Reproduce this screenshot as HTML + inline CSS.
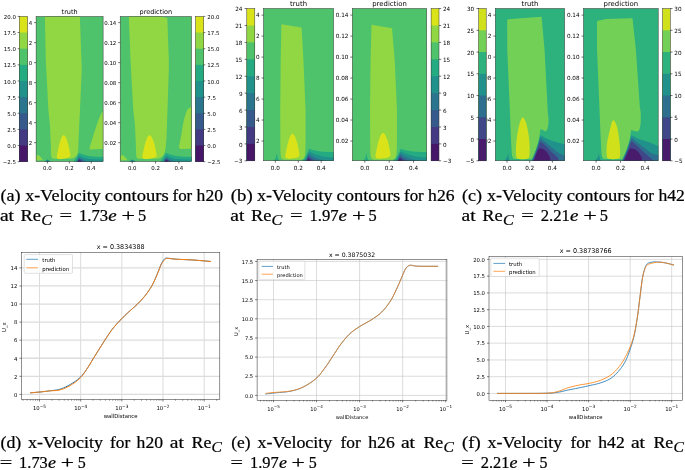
<!DOCTYPE html><html><head><meta charset="utf-8"><title>x-Velocity contours and profiles</title>
<style>html,body{margin:0;padding:0;background:#fff}svg{display:block}text{fill:#000}.d{font-family:"DejaVu Sans","Liberation Sans",sans-serif}.s{font-family:"Liberation Serif","DejaVu Serif",serif;stroke:#000;stroke-width:.22px}</style></head><body>
<svg width="685" height="470" viewBox="0 0 685 470">
<rect width="685" height="470" fill="#fff"/>
<clipPath id="c1"><rect x="36.1" y="16.4" width="67" height="145.1"/></clipPath>
<g clip-path="url(#c1)">
<rect x="35.1" y="15.4" width="69" height="147.1" fill="#4ec36b"/>
<polygon points="44.89,12.6 79.86,12.6 79.86,16.4 81.46,60.03 81.76,70.04 79.96,110.16 78.87,133.18 78.26,149.19 78.26,149.19 78.17,149.79 78.06,150.64 77.93,151.64 77.75,152.69 77.52,153.67 77.22,154.5 76.85,155.17 76.43,155.8 75.94,156.36 75.42,156.86 74.85,157.31 74.26,157.7 73.57,158.02 72.77,158.26 71.94,158.45 71.14,158.59 70.46,158.7 69.98,158.8 53.54,158.8 53.35,158.72 53.07,158.63 52.76,158.52 52.43,158.36 52.13,158.16 51.89,157.9 51.71,157.64 51.57,157.4 51.46,157.12 51.36,156.7 51.27,156.09 51.18,155.2 51.09,153.83 51.01,152.03 50.94,150.02 50.88,148.05 50.83,146.36 50.79,145.19 49.99,125.17 48.39,110.16 45.79,60.03 44.89,16.4" fill="#90d743"/>
<polygon points="63.68,134.98 63.5,135.13 63.25,135.33 62.96,135.57 62.64,135.85 62.35,136.15 62.09,136.48 61.87,136.84 61.68,137.21 61.5,137.62 61.32,138.07 61.13,138.55 60.94,139.08 60.72,139.68 60.5,140.33 60.27,141.03 60.04,141.75 59.82,142.47 59.62,143.19 59.44,143.9 59.26,144.62 59.1,145.35 58.94,146.07 58.79,146.79 58.63,147.49 58.48,148.17 58.33,148.85 58.19,149.51 58.04,150.17 57.9,150.83 57.76,151.49 57.61,152.18 57.45,152.89 57.29,153.61 57.15,154.3 57.03,154.93 56.93,155.5 56.87,155.98 56.81,156.4 56.78,156.78 56.77,157.11 56.8,157.42 56.88,157.7 56.99,157.95 57.14,158.18 57.32,158.37 57.55,158.53 57.82,158.67 58.14,158.8 58.51,158.91 58.91,159.01 59.36,159.08 59.86,159.12 60.44,159.13 61.1,159.1 61.9,159.01 62.83,158.87 63.84,158.69 64.85,158.49 65.78,158.29 66.58,158.1 67.26,157.91 67.86,157.72 68.39,157.52 68.85,157.32 69.26,157.11 69.6,156.9 69.87,156.71 70.07,156.54 70.21,156.37 70.3,156.16 70.35,155.88 70.37,155.5 70.35,154.98 70.28,154.35 70.17,153.66 70.03,152.92 69.89,152.19 69.76,151.49 69.64,150.83 69.51,150.17 69.38,149.51 69.24,148.85 69.09,148.17 68.94,147.49 68.79,146.79 68.64,146.07 68.49,145.35 68.32,144.62 68.15,143.9 67.96,143.19 67.74,142.47 67.51,141.75 67.26,141.03 67.01,140.33 66.76,139.68 66.53,139.08 66.31,138.55 66.11,138.07 65.91,137.62 65.71,137.21 65.5,136.84 65.27,136.48 65,136.15 64.7,135.85 64.39,135.57 64.1,135.33 63.86,135.13 63.68,134.98" fill="#dae319"/>
<polygon points="35.33,155.2 38.07,155.2 38.07,155.2 38.26,155.27 38.53,155.36 38.84,155.49 39.17,155.66 39.5,155.9 39.83,156.21 40.18,156.59 40.54,157.02 40.9,157.46 41.25,157.9 41.62,158.36 42,158.87 42.36,159.37 42.68,159.8 42.9,160.1 35.33,160.5" fill="#90d743"/>
<polygon points="104.42,108.16 104.28,108.38 104.12,108.64 103.91,108.97 103.67,109.38 103.38,109.87 103.05,110.46 102.66,111.15 102.21,111.92 101.73,112.77 101.21,113.73 100.68,114.79 100.14,115.97 99.59,117.3 99.01,118.77 98.42,120.36 97.82,122.01 97.22,123.7 96.63,125.38 96.05,127.05 95.46,128.75 94.88,130.48 94.3,132.24 93.71,134.04 93.12,135.88 92.49,137.91 91.81,140.16 91.12,142.44 90.48,144.58 89.95,146.39 89.56,147.69 89.56,147.69 89.55,148.01 89.54,148.48 89.58,148.95 89.72,149.29 90.05,149.44 90.5,149.49 90.95,149.49 91.26,149.49 104.42,148.79" fill="#90d743"/>
<polygon points="73.27,162.7 73.27,161.5 73.68,161.06 74.25,160.44 74.91,159.71 75.56,158.94 76.12,158.2 76.59,157.45 77.03,156.65 77.42,155.86 77.78,155.12 78.1,154.5 78.37,153.98 78.6,153.55 78.8,153.19 78.95,152.91 79.06,152.69 79.06,152.69 79.4,152.88 79.83,153.13 80.39,153.44 81.08,153.77 81.94,154.09 83,154.45 84.25,154.83 85.63,155.23 87.06,155.59 88.46,155.9 89.83,156.13 91.21,156.32 92.62,156.47 94.09,156.59 95.64,156.7 97.44,156.78 99.46,156.83 101.46,156.86 103.2,156.88 104.42,156.9 104.42,162.7" fill="#25ab82"/>
<polygon points="75.69,162.7 75.69,161.5 75.95,161.03 76.31,160.35 76.74,159.57 77.17,158.79 77.55,158.1 77.9,157.47 78.25,156.84 78.58,156.25 78.86,155.75 79.06,155.4 79.06,155.4 79.48,155.64 80.03,155.99 80.72,156.4 81.54,156.81 82.48,157.2 83.58,157.56 84.84,157.94 86.2,158.31 87.63,158.64 89.06,158.9 90.53,159.08 92.06,159.2 93.62,159.28 95.19,159.34 96.74,159.4 98.4,159.45 100.18,159.47 101.9,159.49 103.37,159.49 104.42,159.5 104.42,162.7" fill="#21918c"/>
<polygon points="76.78,162.7 76.78,161.5 77.03,161.07 77.38,160.46 77.76,159.79 78.1,159.2 78.39,158.69 78.66,158.2 78.9,157.79 79.06,157.5 79.06,157.5 79.56,157.78 80.26,158.2 81.08,158.66 81.94,159.1 82.82,159.52 83.76,159.95 84.75,160.36 85.77,160.7 86.94,160.97 88.21,161.2 89.36,161.37 90.16,161.5 90.16,162.7" fill="#2b758e"/>
<polygon points="77.44,162.7 77.44,161.5 77.6,161.16 77.83,160.67 78.09,160.15 78.32,159.7 78.53,159.33 78.75,158.99 78.93,158.7 79.06,158.5 79.06,158.5 79.47,158.74 80.05,159.1 80.72,159.5 81.39,159.9 82.11,160.32 82.9,160.79 83.63,161.21 84.13,161.5 84.13,162.7" fill="#375a8c"/>
<polygon points="77.88,162.7 77.88,161.5 78,161.23 78.18,160.85 78.37,160.44 78.54,160.1 78.69,159.84 78.84,159.61 78.97,159.43 79.06,159.3 79.06,159.3 79.39,159.47 79.86,159.72 80.38,160.01 80.84,160.3 81.25,160.61 81.66,160.96 82.02,161.28 82.27,161.5 82.27,162.7" fill="#443983"/>
<polygon points="78.21,162.7 78.21,161.5 78.84,160.1 81.17,161.5 81.17,162.7" fill="#481668"/>
<polygon points="44.1,162.7 44.1,161.5 47.39,159.3 51.23,161.5 51.23,162.7" fill="#25ab82"/>
<polygon points="45.42,162.7 45.42,161.5 47.61,160 49.81,161.5 49.81,162.7" fill="#2b758e"/>
</g>
<rect x="36.1" y="16.4" width="67" height="145.1" fill="none" stroke="#333" stroke-width="0.5"/>
<line x1="34.1" y1="142.69" x2="36.1" y2="142.69" stroke="#000" stroke-width="0.55"/>
<text class="d" transform="translate(32.2,144.76)" font-size="5.45" text-anchor="end">0.02</text>
<line x1="34.1" y1="122.67" x2="36.1" y2="122.67" stroke="#000" stroke-width="0.55"/>
<text class="d" transform="translate(32.2,124.74)" font-size="5.45" text-anchor="end">0.04</text>
<line x1="34.1" y1="102.66" x2="36.1" y2="102.66" stroke="#000" stroke-width="0.55"/>
<text class="d" transform="translate(32.2,104.73)" font-size="5.45" text-anchor="end">0.06</text>
<line x1="34.1" y1="82.65" x2="36.1" y2="82.65" stroke="#000" stroke-width="0.55"/>
<text class="d" transform="translate(32.2,84.72)" font-size="5.45" text-anchor="end">0.08</text>
<line x1="34.1" y1="62.63" x2="36.1" y2="62.63" stroke="#000" stroke-width="0.55"/>
<text class="d" transform="translate(32.2,64.7)" font-size="5.45" text-anchor="end">0.10</text>
<line x1="34.1" y1="42.62" x2="36.1" y2="42.62" stroke="#000" stroke-width="0.55"/>
<text class="d" transform="translate(32.2,44.69)" font-size="5.45" text-anchor="end">0.12</text>
<line x1="34.1" y1="22.6" x2="36.1" y2="22.6" stroke="#000" stroke-width="0.55"/>
<text class="d" transform="translate(32.2,24.68)" font-size="5.45" text-anchor="end">0.14</text>
<line x1="47.39" y1="161.5" x2="47.39" y2="163.5" stroke="#000" stroke-width="0.55"/>
<text class="d" transform="translate(47.39,170.49)" font-size="5.45" text-anchor="middle">0.0</text>
<line x1="69.33" y1="161.5" x2="69.33" y2="163.5" stroke="#000" stroke-width="0.55"/>
<text class="d" transform="translate(69.33,170.49)" font-size="5.45" text-anchor="middle">0.2</text>
<line x1="91.26" y1="161.5" x2="91.26" y2="163.5" stroke="#000" stroke-width="0.55"/>
<text class="d" transform="translate(91.26,170.49)" font-size="5.45" text-anchor="middle">0.4</text>
<text class="d" transform="translate(69.6,13.8)" font-size="6.5" text-anchor="middle">truth</text>
<rect x="19" y="13.4" width="9.7" height="151.3" fill="#fff"/>
<rect x="19.3" y="16.4" width="8.3" height="145.3" fill="#dae319"/>
<rect x="19.3" y="32.54" width="8.3" height="129.16" fill="#90d743"/>
<rect x="19.3" y="48.69" width="8.3" height="113.01" fill="#4ec36b"/>
<rect x="19.3" y="64.83" width="8.3" height="96.87" fill="#25ab82"/>
<rect x="19.3" y="80.98" width="8.3" height="80.72" fill="#21918c"/>
<rect x="19.3" y="97.12" width="8.3" height="64.58" fill="#2b758e"/>
<rect x="19.3" y="113.27" width="8.3" height="48.43" fill="#375a8c"/>
<rect x="19.3" y="129.41" width="8.3" height="32.29" fill="#443983"/>
<rect x="19.3" y="145.56" width="8.3" height="16.14" fill="#481668"/>
<rect x="19.3" y="16.4" width="8.3" height="145.3" fill="none" stroke="#333" stroke-width="0.5"/>
<line x1="17.7" y1="161.7" x2="19.3" y2="161.7" stroke="#000" stroke-width="0.55"/>
<text class="d" transform="translate(15.9,164.26)" font-size="5.45" text-anchor="end">−2.5</text>
<line x1="17.7" y1="145.56" x2="19.3" y2="145.56" stroke="#000" stroke-width="0.55"/>
<text class="d" transform="translate(15.9,148.12)" font-size="5.45" text-anchor="end">0.0</text>
<line x1="17.7" y1="129.41" x2="19.3" y2="129.41" stroke="#000" stroke-width="0.55"/>
<text class="d" transform="translate(15.9,131.97)" font-size="5.45" text-anchor="end">2.5</text>
<line x1="17.7" y1="113.27" x2="19.3" y2="113.27" stroke="#000" stroke-width="0.55"/>
<text class="d" transform="translate(15.9,115.83)" font-size="5.45" text-anchor="end">5.0</text>
<line x1="17.7" y1="97.12" x2="19.3" y2="97.12" stroke="#000" stroke-width="0.55"/>
<text class="d" transform="translate(15.9,99.68)" font-size="5.45" text-anchor="end">7.5</text>
<line x1="17.7" y1="80.98" x2="19.3" y2="80.98" stroke="#000" stroke-width="0.55"/>
<text class="d" transform="translate(15.9,83.54)" font-size="5.45" text-anchor="end">10.0</text>
<line x1="17.7" y1="64.83" x2="19.3" y2="64.83" stroke="#000" stroke-width="0.55"/>
<text class="d" transform="translate(15.9,67.39)" font-size="5.45" text-anchor="end">12.5</text>
<line x1="17.7" y1="48.69" x2="19.3" y2="48.69" stroke="#000" stroke-width="0.55"/>
<text class="d" transform="translate(15.9,51.25)" font-size="5.45" text-anchor="end">15.0</text>
<line x1="17.7" y1="32.54" x2="19.3" y2="32.54" stroke="#000" stroke-width="0.55"/>
<text class="d" transform="translate(15.9,35.11)" font-size="5.45" text-anchor="end">17.5</text>
<line x1="17.7" y1="16.4" x2="19.3" y2="16.4" stroke="#000" stroke-width="0.55"/>
<text class="d" transform="translate(15.9,18.96)" font-size="5.45" text-anchor="end">20.0</text>
<clipPath id="c2"><rect x="120.2" y="16.4" width="71.3" height="145.1"/></clipPath>
<g clip-path="url(#c2)">
<rect x="119.2" y="15.4" width="73.3" height="147.1" fill="#4ec36b"/>
<polygon points="128.79,12.6 161.36,12.6 161.36,16.4 167.31,18 167.31,18 168.81,60.03 168.81,70.04 167.31,115.17 166.6,136.38 165.66,148.19 165.66,148.19 165.55,148.7 165.4,149.41 165.21,150.24 165.01,151.12 164.78,151.97 164.54,152.69 164.3,153.32 164.06,153.9 163.8,154.45 163.5,154.96 163.17,155.44 162.79,155.9 162.36,156.33 161.88,156.73 161.36,157.1 160.81,157.43 160.24,157.74 159.64,158 158.97,158.22 158.2,158.39 157.4,158.53 156.65,158.64 156.01,158.73 155.56,158.8 138.75,158.8 138.55,158.72 138.26,158.63 137.93,158.52 137.58,158.36 137.26,158.16 137,157.9 136.82,157.64 136.66,157.4 136.54,157.12 136.44,156.7 136.34,156.09 136.25,155.2 136.15,153.83 136.07,152.03 135.99,150.02 135.93,148.05 135.88,146.36 135.84,145.19 134.99,125.17 133.28,110.16 130.52,60.03 128.79,16.4" fill="#90d743"/>
<polygon points="149.55,134.98 149.36,135.13 149.09,135.33 148.78,135.57 148.45,135.85 148.13,136.15 147.86,136.48 147.63,136.84 147.42,137.21 147.23,137.62 147.04,138.07 146.84,138.55 146.63,139.08 146.4,139.68 146.16,140.33 145.92,141.03 145.68,141.75 145.45,142.47 145.23,143.19 145.03,143.9 144.85,144.62 144.68,145.35 144.51,146.07 144.34,146.79 144.18,147.49 144.02,148.17 143.86,148.85 143.7,149.51 143.55,150.17 143.4,150.83 143.25,151.49 143.09,152.18 142.92,152.89 142.75,153.61 142.6,154.3 142.47,154.93 142.37,155.5 142.3,155.98 142.24,156.4 142.2,156.78 142.2,157.11 142.23,157.42 142.31,157.7 142.44,157.95 142.59,158.18 142.78,158.37 143.02,158.53 143.31,158.67 143.66,158.8 144.04,158.91 144.47,159.01 144.95,159.08 145.49,159.12 146.1,159.13 146.81,159.1 147.65,159.01 148.65,158.87 149.72,158.69 150.79,158.49 151.79,158.29 152.64,158.1 153.36,157.91 153.99,157.72 154.56,157.52 155.05,157.32 155.48,157.11 155.85,156.9 156.14,156.71 156.35,156.54 156.5,156.37 156.59,156.16 156.64,155.88 156.67,155.5 156.65,154.98 156.57,154.35 156.45,153.66 156.31,152.92 156.16,152.19 156.03,151.49 155.89,150.83 155.76,150.17 155.61,149.51 155.46,148.85 155.31,148.17 155.15,147.49 154.99,146.79 154.83,146.07 154.66,145.35 154.49,144.62 154.3,143.9 154.1,143.19 153.87,142.47 153.62,141.75 153.36,141.03 153.09,140.33 152.83,139.68 152.58,139.08 152.35,138.55 152.14,138.07 151.92,137.62 151.71,137.21 151.48,136.84 151.24,136.48 150.96,136.15 150.64,135.85 150.31,135.57 150,135.33 149.74,135.13 149.55,134.98" fill="#dae319"/>
<polygon points="119.38,155.2 122.3,155.2 122.3,155.2 122.5,155.27 122.78,155.36 123.11,155.49 123.47,155.66 123.82,155.9 124.17,156.21 124.54,156.59 124.93,157.02 125.31,157.46 125.68,157.9 126.07,158.36 126.48,158.87 126.87,159.37 127.2,159.8 127.44,160.1 119.38,160.5" fill="#90d743"/>
<polygon points="192.9,105.16 192.78,105.33 192.65,105.54 192.47,105.81 192.24,106.11 191.92,106.47 191.5,106.86 190.94,107.22 190.24,107.53 189.47,107.89 188.66,108.38 187.88,109.11 187.16,110.16 186.5,111.61 185.84,113.39 185.21,115.41 184.61,117.55 184.04,119.74 183.53,121.87 183.08,124 182.69,126.23 182.33,128.49 182,130.74 181.67,132.92 181.31,134.98 180.92,137.03 180.49,139.13 180.07,141.15 179.67,143 179.34,144.55 179.1,145.69 179.1,145.69 179.1,146.07 179.1,146.62 179.12,147.21 179.19,147.69 179.29,148.05 179.43,148.35 179.6,148.6 179.83,148.79 180.16,148.91 180.57,148.96 180.96,148.98 181.23,148.99 192.9,148.69" fill="#90d743"/>
<polygon points="159.76,162.7 159.76,161.5 160.19,161.06 160.8,160.44 161.5,159.71 162.2,158.94 162.79,158.2 163.28,157.45 163.72,156.65 164.13,155.86 164.51,155.12 164.89,154.5 165.29,153.98 165.69,153.55 166.06,153.19 166.37,152.91 166.6,152.69 166.6,152.69 166.85,152.88 167.16,153.13 167.58,153.44 168.17,153.77 168.98,154.09 170.06,154.45 171.39,154.83 172.87,155.23 174.41,155.59 175.92,155.9 177.38,156.13 178.85,156.32 180.35,156.47 181.92,156.59 183.56,156.7 185.47,156.78 187.63,156.83 189.76,156.86 191.6,156.88 192.9,156.9 192.9,162.7" fill="#25ab82"/>
<polygon points="162.33,162.7 162.33,161.5 162.59,161.03 162.96,160.35 163.4,159.57 163.86,158.79 164.31,158.1 164.78,157.47 165.31,156.84 165.83,156.25 166.28,155.75 166.6,155.4 166.6,155.4 166.94,155.64 167.38,155.99 167.94,156.4 168.66,156.81 169.56,157.2 170.68,157.56 172.02,157.94 173.48,158.31 175.02,158.64 176.56,158.9 178.12,159.08 179.75,159.2 181.41,159.28 183.08,159.34 184.73,159.4 186.5,159.45 188.39,159.47 190.22,159.49 191.79,159.49 192.9,159.5 192.9,162.7" fill="#21918c"/>
<polygon points="163.49,162.7 163.49,161.5 163.74,161.07 164.09,160.46 164.49,159.79 164.89,159.2 165.34,158.69 165.83,158.2 166.28,157.79 166.6,157.5 166.6,157.5 166.99,157.78 167.53,158.2 168.21,158.66 168.98,159.1 169.87,159.52 170.88,159.95 171.96,160.36 173.06,160.7 174.3,160.97 175.65,161.2 176.88,161.37 177.73,161.5 177.73,162.7" fill="#2b758e"/>
<polygon points="164.19,162.7 164.19,161.5 164.35,161.16 164.57,160.67 164.83,160.15 165.13,159.7 165.49,159.33 165.92,158.99 166.32,158.7 166.6,158.5 166.6,158.5 166.89,158.74 167.31,159.1 167.82,159.5 168.39,159.9 169.11,160.32 169.97,160.79 170.76,161.21 171.31,161.5 171.31,162.7" fill="#375a8c"/>
<polygon points="164.66,162.7 164.66,161.5 164.77,161.23 164.93,160.85 165.13,160.44 165.36,160.1 165.66,159.84 166.02,159.61 166.36,159.43 166.6,159.3 166.6,159.3 166.81,159.47 167.11,159.72 167.46,160.01 167.81,160.3 168.2,160.61 168.65,160.96 169.05,161.28 169.33,161.5 169.33,162.7" fill="#443983"/>
<polygon points="165.01,162.7 165.01,161.5 166.36,160.1 168.16,161.5 168.16,162.7" fill="#481668"/>
<polygon points="128.72,162.7 128.72,161.5 132.22,159.3 136.3,161.5 136.3,162.7" fill="#25ab82"/>
<polygon points="130.12,162.7 130.12,161.5 132.45,160 134.79,161.5 134.79,162.7" fill="#2b758e"/>
</g>
<rect x="120.2" y="16.4" width="71.3" height="145.1" fill="none" stroke="#333" stroke-width="0.5"/>
<line x1="118.2" y1="142.69" x2="120.2" y2="142.69" stroke="#000" stroke-width="0.55"/>
<text class="d" transform="translate(116.3,144.76)" font-size="5.45" text-anchor="end">0.02</text>
<line x1="118.2" y1="122.67" x2="120.2" y2="122.67" stroke="#000" stroke-width="0.55"/>
<text class="d" transform="translate(116.3,124.74)" font-size="5.45" text-anchor="end">0.04</text>
<line x1="118.2" y1="102.66" x2="120.2" y2="102.66" stroke="#000" stroke-width="0.55"/>
<text class="d" transform="translate(116.3,104.73)" font-size="5.45" text-anchor="end">0.06</text>
<line x1="118.2" y1="82.65" x2="120.2" y2="82.65" stroke="#000" stroke-width="0.55"/>
<text class="d" transform="translate(116.3,84.72)" font-size="5.45" text-anchor="end">0.08</text>
<line x1="118.2" y1="62.63" x2="120.2" y2="62.63" stroke="#000" stroke-width="0.55"/>
<text class="d" transform="translate(116.3,64.7)" font-size="5.45" text-anchor="end">0.10</text>
<line x1="118.2" y1="42.62" x2="120.2" y2="42.62" stroke="#000" stroke-width="0.55"/>
<text class="d" transform="translate(116.3,44.69)" font-size="5.45" text-anchor="end">0.12</text>
<line x1="118.2" y1="22.6" x2="120.2" y2="22.6" stroke="#000" stroke-width="0.55"/>
<text class="d" transform="translate(116.3,24.68)" font-size="5.45" text-anchor="end">0.14</text>
<line x1="132.22" y1="161.5" x2="132.22" y2="163.5" stroke="#000" stroke-width="0.55"/>
<text class="d" transform="translate(132.22,170.49)" font-size="5.45" text-anchor="middle">0.0</text>
<line x1="155.56" y1="161.5" x2="155.56" y2="163.5" stroke="#000" stroke-width="0.55"/>
<text class="d" transform="translate(155.56,170.49)" font-size="5.45" text-anchor="middle">0.2</text>
<line x1="178.9" y1="161.5" x2="178.9" y2="163.5" stroke="#000" stroke-width="0.55"/>
<text class="d" transform="translate(178.9,170.49)" font-size="5.45" text-anchor="middle">0.4</text>
<text class="d" transform="translate(155.85,13.8)" font-size="6.5" text-anchor="middle">prediction</text>
<rect x="195.3" y="13.4" width="8.7" height="151.3" fill="#fff"/>
<rect x="195.6" y="16.4" width="8.1" height="145.3" fill="#dae319"/>
<rect x="195.6" y="32.54" width="8.1" height="129.16" fill="#90d743"/>
<rect x="195.6" y="48.69" width="8.1" height="113.01" fill="#4ec36b"/>
<rect x="195.6" y="64.83" width="8.1" height="96.87" fill="#25ab82"/>
<rect x="195.6" y="80.98" width="8.1" height="80.72" fill="#21918c"/>
<rect x="195.6" y="97.12" width="8.1" height="64.58" fill="#2b758e"/>
<rect x="195.6" y="113.27" width="8.1" height="48.43" fill="#375a8c"/>
<rect x="195.6" y="129.41" width="8.1" height="32.29" fill="#443983"/>
<rect x="195.6" y="145.56" width="8.1" height="16.14" fill="#481668"/>
<rect x="195.6" y="16.4" width="8.1" height="145.3" fill="none" stroke="#333" stroke-width="0.5"/>
<line x1="203.7" y1="161.7" x2="205.3" y2="161.7" stroke="#000" stroke-width="0.55"/>
<text class="d" transform="translate(207.3,164.26)" font-size="5.45">−2.5</text>
<line x1="203.7" y1="145.56" x2="205.3" y2="145.56" stroke="#000" stroke-width="0.55"/>
<text class="d" transform="translate(207.3,148.12)" font-size="5.45">0.0</text>
<line x1="203.7" y1="129.41" x2="205.3" y2="129.41" stroke="#000" stroke-width="0.55"/>
<text class="d" transform="translate(207.3,131.97)" font-size="5.45">2.5</text>
<line x1="203.7" y1="113.27" x2="205.3" y2="113.27" stroke="#000" stroke-width="0.55"/>
<text class="d" transform="translate(207.3,115.83)" font-size="5.45">5.0</text>
<line x1="203.7" y1="97.12" x2="205.3" y2="97.12" stroke="#000" stroke-width="0.55"/>
<text class="d" transform="translate(207.3,99.68)" font-size="5.45">7.5</text>
<line x1="203.7" y1="80.98" x2="205.3" y2="80.98" stroke="#000" stroke-width="0.55"/>
<text class="d" transform="translate(207.3,83.54)" font-size="5.45">10.0</text>
<line x1="203.7" y1="64.83" x2="205.3" y2="64.83" stroke="#000" stroke-width="0.55"/>
<text class="d" transform="translate(207.3,67.39)" font-size="5.45">12.5</text>
<line x1="203.7" y1="48.69" x2="205.3" y2="48.69" stroke="#000" stroke-width="0.55"/>
<text class="d" transform="translate(207.3,51.25)" font-size="5.45">15.0</text>
<line x1="203.7" y1="32.54" x2="205.3" y2="32.54" stroke="#000" stroke-width="0.55"/>
<text class="d" transform="translate(207.3,35.11)" font-size="5.45">17.5</text>
<line x1="203.7" y1="16.4" x2="205.3" y2="16.4" stroke="#000" stroke-width="0.55"/>
<text class="d" transform="translate(207.3,18.96)" font-size="5.45">20.0</text>
<clipPath id="c3"><rect x="263.5" y="8.6" width="70.1" height="152.15"/></clipPath>
<g clip-path="url(#c3)">
<rect x="262.5" y="7.6" width="72.1" height="154.15" fill="#4ec36b"/>
<polygon points="301.6,27.49 303.41,59.81 305.59,109.86 305.59,141.02 305.59,141.02 305.56,142.48 305.52,144.58 305.46,147.02 305.39,149.53 305.29,151.82 305.15,153.61 304.98,154.91 304.8,155.93 304.58,156.73 304.33,157.38 304.02,157.93 303.66,158.44 303.17,158.89 302.55,159.2 301.89,159.43 301.24,159.58 300.69,159.7 300.31,159.81 284.6,159.81 284.27,159.71 283.79,159.6 283.24,159.45 282.67,159.26 282.15,159 281.74,158.65 281.45,158.26 281.22,157.84 281.04,157.35 280.89,156.75 280.77,156.01 280.65,155.08 280.55,153.82 280.49,152.21 280.44,150.45 280.41,148.75 280.39,147.29 280.37,146.27 280.2,109.86 280.7,59.81 281.4,24.34" fill="#90d743"/>
<polygon points="292.4,133.68 292.22,133.82 291.96,134.02 291.65,134.25 291.33,134.52 291.02,134.82 290.75,135.15 290.52,135.5 290.32,135.88 290.13,136.29 289.94,136.74 289.75,137.23 289.54,137.77 289.32,138.38 289.08,139.05 288.84,139.76 288.61,140.5 288.38,141.24 288.17,141.97 287.97,142.68 287.79,143.4 287.62,144.12 287.45,144.84 287.29,145.56 287.13,146.27 286.98,146.97 286.83,147.67 286.69,148.37 286.55,149.06 286.41,149.76 286.27,150.47 286.13,151.2 285.97,151.97 285.82,152.74 285.68,153.49 285.56,154.17 285.47,154.77 285.4,155.27 285.35,155.69 285.31,156.06 285.31,156.39 285.34,156.68 285.41,156.97 285.53,157.25 285.67,157.49 285.85,157.71 286.08,157.91 286.35,158.08 286.68,158.23 287.04,158.36 287.43,158.48 287.87,158.57 288.37,158.64 288.96,158.66 289.66,158.65 290.53,158.59 291.57,158.48 292.7,158.34 293.83,158.17 294.87,157.99 295.74,157.81 296.43,157.63 297.03,157.44 297.54,157.24 297.97,157.03 298.34,156.8 298.66,156.55 298.93,156.31 299.12,156.09 299.26,155.85 299.34,155.57 299.39,155.22 299.41,154.77 299.39,154.2 299.32,153.52 299.21,152.77 299.08,151.99 298.94,151.21 298.81,150.47 298.69,149.76 298.55,149.06 298.4,148.37 298.25,147.67 298.1,146.97 297.94,146.27 297.79,145.56 297.64,144.84 297.48,144.12 297.32,143.4 297.14,142.68 296.94,141.97 296.72,141.24 296.48,140.5 296.22,139.76 295.95,139.05 295.7,138.38 295.45,137.77 295.23,137.23 295.02,136.74 294.81,136.29 294.6,135.88 294.37,135.5 294.13,135.15 293.85,134.82 293.52,134.52 293.18,134.25 292.86,134.02 292.59,133.82 292.4,133.68" fill="#dae319"/>
<polygon points="273.02,162.01 273.02,160.75 273.47,160.44 274.11,160 274.79,159.47 275.32,158.86 275.65,158.16 275.89,157.35 276.07,156.51 276.24,155.71 276.38,154.85 276.49,153.92 276.58,153.18 276.69,152.88 276.82,153.18 276.96,153.92 277.11,154.85 277.27,155.71 277.43,156.51 277.59,157.35 277.79,158.16 278.07,158.86 278.5,159.47 279.04,160 279.55,160.44 279.91,160.75 279.91,162.01" fill="#25ab82"/>
<polygon points="301.71,162.01 301.71,160.75 302.1,160.46 302.66,160.07 303.31,159.58 303.98,159.01 304.57,158.34 305.11,157.54 305.63,156.62 306.14,155.63 306.63,154.61 307.1,153.61 307.56,152.56 308.03,151.42 308.46,150.31 308.83,149.36 309.09,148.68 309.09,148.68 309.52,148.85 310.1,149.09 310.81,149.37 311.65,149.66 312.6,149.94 313.73,150.22 315.02,150.52 316.41,150.82 317.83,151.09 319.2,151.31 320.48,151.47 321.72,151.59 322.97,151.68 324.31,151.75 325.8,151.83 327.62,151.91 329.72,151.99 331.84,152.05 333.69,152.11 334.98,152.15 334.98,162.01" fill="#25ab82"/>
<polygon points="304.5,162.01 304.5,160.75 304.83,160.05 305.29,159.06 305.83,157.92 306.37,156.75 306.87,155.71 307.34,154.74 307.84,153.73 308.31,152.79 308.72,151.98 309,151.41 309,151.41 309.92,151.84 311.2,152.44 312.72,153.14 314.36,153.84 316,154.45 317.66,154.99 319.41,155.51 321.23,155.99 323.1,156.41 325,156.76 327.09,157.02 329.4,157.21 331.66,157.33 333.6,157.42 334.98,157.5 334.98,162.01" fill="#21918c"/>
<polygon points="305.5,162.01 305.5,160.75 305.76,160.16 306.12,159.32 306.54,158.36 306.96,157.39 307.33,156.55 307.67,155.81 308.01,155.07 308.33,154.39 308.6,153.82 308.8,153.4 308.8,153.4 309.29,153.81 309.94,154.38 310.77,155.05 311.78,155.76 312.99,156.45 314.57,157.16 316.49,157.93 318.53,158.69 320.44,159.38 322,159.91 323.18,160.26 324.15,160.48 324.92,160.6 325.53,160.68 325.99,160.75 325.99,162.01" fill="#2b758e"/>
<polygon points="306,162.01 306,160.75 306.26,160.16 306.65,159.31 307.07,158.4 307.44,157.6 307.78,156.93 308.11,156.3 308.4,155.77 308.6,155.4 308.6,155.4 309.2,155.96 310.05,156.78 311.02,157.66 312,158.44 313.05,159.12 314.21,159.79 315.27,160.35 316,160.75 316,162.01" fill="#375a8c"/>
<polygon points="306.5,162.01 306.5,160.75 306.7,160.36 306.98,159.79 307.28,159.18 307.56,158.65 307.8,158.21 308.04,157.79 308.25,157.43 308.39,157.18 308.39,157.18 308.81,157.53 309.41,158.02 310.07,158.57 310.65,159.07 311.19,159.54 311.72,160.03 312.18,160.45 312.5,160.75 312.5,162.01" fill="#443983"/>
<polygon points="307.01,162.01 307.01,160.75 308.3,158.44 310.5,160.75 310.5,162.01" fill="#481668"/>
</g>
<rect x="263.5" y="8.6" width="70.1" height="152.15" fill="none" stroke="#333" stroke-width="0.5"/>
<line x1="261.5" y1="141.02" x2="263.5" y2="141.02" stroke="#000" stroke-width="0.55"/>
<text class="d" transform="translate(259.6,143.19)" font-size="5.7" text-anchor="end">0.02</text>
<line x1="261.5" y1="120.04" x2="263.5" y2="120.04" stroke="#000" stroke-width="0.55"/>
<text class="d" transform="translate(259.6,122.2)" font-size="5.7" text-anchor="end">0.04</text>
<line x1="261.5" y1="99.05" x2="263.5" y2="99.05" stroke="#000" stroke-width="0.55"/>
<text class="d" transform="translate(259.6,101.22)" font-size="5.7" text-anchor="end">0.06</text>
<line x1="261.5" y1="78.06" x2="263.5" y2="78.06" stroke="#000" stroke-width="0.55"/>
<text class="d" transform="translate(259.6,80.23)" font-size="5.7" text-anchor="end">0.08</text>
<line x1="261.5" y1="57.08" x2="263.5" y2="57.08" stroke="#000" stroke-width="0.55"/>
<text class="d" transform="translate(259.6,59.24)" font-size="5.7" text-anchor="end">0.10</text>
<line x1="261.5" y1="36.09" x2="263.5" y2="36.09" stroke="#000" stroke-width="0.55"/>
<text class="d" transform="translate(259.6,38.26)" font-size="5.7" text-anchor="end">0.12</text>
<line x1="261.5" y1="15.11" x2="263.5" y2="15.11" stroke="#000" stroke-width="0.55"/>
<text class="d" transform="translate(259.6,17.27)" font-size="5.7" text-anchor="end">0.14</text>
<line x1="275.32" y1="160.75" x2="275.32" y2="162.75" stroke="#000" stroke-width="0.55"/>
<text class="d" transform="translate(275.32,169.89)" font-size="5.7" text-anchor="middle">0.0</text>
<line x1="298.26" y1="160.75" x2="298.26" y2="162.75" stroke="#000" stroke-width="0.55"/>
<text class="d" transform="translate(298.26,169.89)" font-size="5.7" text-anchor="middle">0.2</text>
<line x1="321.21" y1="160.75" x2="321.21" y2="162.75" stroke="#000" stroke-width="0.55"/>
<text class="d" transform="translate(321.21,169.89)" font-size="5.7" text-anchor="middle">0.4</text>
<text class="d" transform="translate(298.55,5.9)" font-size="6.9" text-anchor="middle">truth</text>
<rect x="246.5" y="5.55" width="9.4" height="158.25" fill="#fff"/>
<rect x="246.8" y="8.55" width="8" height="152.25" fill="#dae319"/>
<rect x="246.8" y="25.47" width="8" height="135.33" fill="#90d743"/>
<rect x="246.8" y="42.38" width="8" height="118.42" fill="#4ec36b"/>
<rect x="246.8" y="59.3" width="8" height="101.5" fill="#25ab82"/>
<rect x="246.8" y="76.22" width="8" height="84.58" fill="#21918c"/>
<rect x="246.8" y="93.13" width="8" height="67.67" fill="#2b758e"/>
<rect x="246.8" y="110.05" width="8" height="50.75" fill="#375a8c"/>
<rect x="246.8" y="126.97" width="8" height="33.83" fill="#443983"/>
<rect x="246.8" y="143.88" width="8" height="16.92" fill="#481668"/>
<rect x="246.8" y="8.55" width="8" height="152.25" fill="none" stroke="#333" stroke-width="0.5"/>
<line x1="244.6" y1="160.8" x2="246.8" y2="160.8" stroke="#000" stroke-width="0.55"/>
<text class="d" transform="translate(242.5,163.48)" font-size="5.7" text-anchor="end">−3</text>
<line x1="244.6" y1="143.88" x2="246.8" y2="143.88" stroke="#000" stroke-width="0.55"/>
<text class="d" transform="translate(242.5,146.56)" font-size="5.7" text-anchor="end">0</text>
<line x1="244.6" y1="126.97" x2="246.8" y2="126.97" stroke="#000" stroke-width="0.55"/>
<text class="d" transform="translate(242.5,129.65)" font-size="5.7" text-anchor="end">3</text>
<line x1="244.6" y1="110.05" x2="246.8" y2="110.05" stroke="#000" stroke-width="0.55"/>
<text class="d" transform="translate(242.5,112.73)" font-size="5.7" text-anchor="end">6</text>
<line x1="244.6" y1="93.13" x2="246.8" y2="93.13" stroke="#000" stroke-width="0.55"/>
<text class="d" transform="translate(242.5,95.81)" font-size="5.7" text-anchor="end">9</text>
<line x1="244.6" y1="76.22" x2="246.8" y2="76.22" stroke="#000" stroke-width="0.55"/>
<text class="d" transform="translate(242.5,78.9)" font-size="5.7" text-anchor="end">12</text>
<line x1="244.6" y1="59.3" x2="246.8" y2="59.3" stroke="#000" stroke-width="0.55"/>
<text class="d" transform="translate(242.5,61.98)" font-size="5.7" text-anchor="end">15</text>
<line x1="244.6" y1="42.38" x2="246.8" y2="42.38" stroke="#000" stroke-width="0.55"/>
<text class="d" transform="translate(242.5,45.06)" font-size="5.7" text-anchor="end">18</text>
<line x1="244.6" y1="25.47" x2="246.8" y2="25.47" stroke="#000" stroke-width="0.55"/>
<text class="d" transform="translate(242.5,28.15)" font-size="5.7" text-anchor="end">21</text>
<line x1="244.6" y1="8.55" x2="246.8" y2="8.55" stroke="#000" stroke-width="0.55"/>
<text class="d" transform="translate(242.5,11.23)" font-size="5.7" text-anchor="end">24</text>
<clipPath id="c4"><rect x="352.3" y="8.6" width="74.4" height="152.15"/></clipPath>
<g clip-path="url(#c4)">
<rect x="351.3" y="7.6" width="76.4" height="154.15" fill="#4ec36b"/>
<polygon points="392,28.22 394.66,59.81 396.98,109.86 396.98,141.02 396.98,141.02 396.94,142.48 396.89,144.58 396.84,147.02 396.76,149.53 396.65,151.82 396.5,153.61 396.32,154.91 396.13,155.93 395.9,156.73 395.63,157.38 395.31,157.93 394.92,158.44 394.4,158.89 393.75,159.2 393.04,159.43 392.36,159.58 391.77,159.7 391.36,159.81 374.69,159.81 374.34,159.71 373.84,159.6 373.25,159.45 372.65,159.26 372.09,159 371.66,158.65 371.35,158.26 371.1,157.84 370.91,157.35 370.76,156.75 370.63,156.01 370.5,155.08 370.4,153.82 370.33,152.21 370.28,150.45 370.25,148.75 370.22,147.29 370.2,146.27 370.03,109.86 370.55,59.81 371.5,24.86" fill="#90d743"/>
<polygon points="382.97,132.73 382.78,132.9 382.5,133.11 382.18,133.37 381.83,133.66 381.5,133.99 381.22,134.34 380.98,134.71 380.77,135.1 380.56,135.52 380.36,135.98 380.16,136.49 379.94,137.04 379.7,137.67 379.45,138.36 379.2,139.1 378.95,139.86 378.7,140.62 378.48,141.37 378.27,142.1 378.08,142.84 377.9,143.58 377.72,144.32 377.55,145.06 377.38,145.8 377.22,146.52 377.06,147.24 376.91,147.96 376.76,148.68 376.62,149.39 376.47,150.12 376.32,150.88 376.15,151.66 375.99,152.46 375.84,153.22 375.71,153.93 375.62,154.55 375.55,155.08 375.49,155.55 375.45,155.96 375.44,156.33 375.48,156.66 375.56,156.97 375.68,157.26 375.83,157.51 376.03,157.73 376.26,157.92 376.55,158.08 376.9,158.23 377.28,158.36 377.7,158.48 378.16,158.57 378.7,158.64 379.32,158.66 380.06,158.65 380.99,158.59 382.09,158.48 383.29,158.34 384.49,158.17 385.6,157.99 386.52,157.81 387.25,157.63 387.89,157.45 388.42,157.25 388.88,157.04 389.28,156.81 389.62,156.55 389.9,156.29 390.11,156.03 390.25,155.75 390.34,155.43 390.39,155.03 390.41,154.55 390.39,153.95 390.32,153.25 390.2,152.48 390.07,151.68 389.92,150.88 389.78,150.12 389.64,149.39 389.5,148.68 389.34,147.96 389.18,147.24 389.02,146.52 388.85,145.8 388.69,145.06 388.53,144.32 388.37,143.58 388.19,142.84 388,142.1 387.8,141.37 387.56,140.62 387.3,139.86 387.03,139.1 386.75,138.36 386.47,137.67 386.21,137.04 385.97,136.49 385.75,135.98 385.53,135.52 385.3,135.1 385.07,134.71 384.81,134.34 384.51,133.99 384.16,133.66 383.81,133.37 383.47,133.11 383.18,132.9 382.97,132.73" fill="#dae319"/>
<polygon points="362.41,162.01 362.41,160.75 362.88,160.44 363.56,160 364.28,159.47 364.84,158.86 365.2,158.16 365.45,157.35 365.64,156.51 365.82,155.71 365.97,154.85 366.08,153.92 366.18,153.18 366.3,152.88 366.44,153.18 366.58,153.92 366.74,154.85 366.91,155.71 367.08,156.51 367.25,157.35 367.47,158.16 367.76,158.86 368.22,159.47 368.79,160 369.34,160.44 369.71,160.75 369.71,162.01" fill="#25ab82"/>
<polygon points="392.85,162.01 392.85,160.75 393.27,160.46 393.86,160.07 394.56,159.58 395.26,159.01 395.89,158.34 396.46,157.54 397.02,156.62 397.56,155.63 398.08,154.61 398.57,153.61 399.07,152.56 399.56,151.42 400.02,150.31 400.41,149.36 400.69,148.68 400.69,148.68 401.14,148.85 401.76,149.09 402.51,149.37 403.4,149.66 404.42,149.94 405.61,150.22 406.98,150.52 408.46,150.82 409.97,151.09 411.42,151.31 412.77,151.47 414.09,151.59 415.42,151.68 416.84,151.75 418.42,151.83 420.35,151.91 422.59,151.99 424.83,152.05 426.79,152.11 428.16,152.15 428.16,162.01" fill="#25ab82"/>
<polygon points="395.82,162.01 395.82,160.75 396.16,160.05 396.65,159.06 397.22,157.92 397.8,156.75 398.33,155.71 398.83,154.74 399.36,153.73 399.86,152.79 400.29,151.98 400.59,151.41 400.59,151.41 401.57,151.84 402.93,152.44 404.54,153.14 406.28,153.84 408.02,154.45 409.78,154.99 411.64,155.51 413.57,155.99 415.56,156.41 417.57,156.76 419.79,157.02 422.24,157.21 424.64,157.33 426.7,157.42 428.16,157.5 428.16,162.01" fill="#21918c"/>
<polygon points="396.88,162.01 396.88,160.75 397.15,160.16 397.53,159.32 397.98,158.36 398.42,157.39 398.82,156.55 399.18,155.81 399.54,155.07 399.88,154.39 400.17,153.82 400.37,153.4 400.37,153.4 400.9,153.81 401.59,154.38 402.47,155.05 403.54,155.76 404.83,156.45 406.5,157.16 408.54,157.93 410.7,158.69 412.74,159.38 414.39,159.91 415.65,160.26 416.67,160.48 417.49,160.6 418.14,160.68 418.63,160.75 418.63,162.01" fill="#2b758e"/>
<polygon points="397.4,162.01 397.4,160.75 397.69,160.16 398.09,159.31 398.54,158.4 398.94,157.6 399.29,156.93 399.65,156.3 399.95,155.77 400.17,155.4 400.17,155.4 400.8,155.96 401.7,156.78 402.74,157.66 403.77,158.44 404.89,159.12 406.12,159.79 407.24,160.35 408.02,160.75 408.02,162.01" fill="#375a8c"/>
<polygon points="397.94,162.01 397.94,160.75 398.15,160.36 398.44,159.79 398.77,159.18 399.06,158.65 399.32,158.21 399.57,157.79 399.79,157.43 399.95,157.18 399.95,157.18 400.39,157.53 401.02,158.02 401.72,158.57 402.35,159.07 402.91,159.54 403.48,160.03 403.96,160.45 404.31,160.75 404.31,162.01" fill="#443983"/>
<polygon points="398.47,162.01 398.47,160.75 399.85,158.44 402.19,160.75 402.19,162.01" fill="#481668"/>
</g>
<rect x="352.3" y="8.6" width="74.4" height="152.15" fill="none" stroke="#333" stroke-width="0.5"/>
<line x1="350.3" y1="141.02" x2="352.3" y2="141.02" stroke="#000" stroke-width="0.55"/>
<text class="d" transform="translate(348.4,143.19)" font-size="5.7" text-anchor="end">0.02</text>
<line x1="350.3" y1="120.04" x2="352.3" y2="120.04" stroke="#000" stroke-width="0.55"/>
<text class="d" transform="translate(348.4,122.2)" font-size="5.7" text-anchor="end">0.04</text>
<line x1="350.3" y1="99.05" x2="352.3" y2="99.05" stroke="#000" stroke-width="0.55"/>
<text class="d" transform="translate(348.4,101.22)" font-size="5.7" text-anchor="end">0.06</text>
<line x1="350.3" y1="78.06" x2="352.3" y2="78.06" stroke="#000" stroke-width="0.55"/>
<text class="d" transform="translate(348.4,80.23)" font-size="5.7" text-anchor="end">0.08</text>
<line x1="350.3" y1="57.08" x2="352.3" y2="57.08" stroke="#000" stroke-width="0.55"/>
<text class="d" transform="translate(348.4,59.24)" font-size="5.7" text-anchor="end">0.10</text>
<line x1="350.3" y1="36.09" x2="352.3" y2="36.09" stroke="#000" stroke-width="0.55"/>
<text class="d" transform="translate(348.4,38.26)" font-size="5.7" text-anchor="end">0.12</text>
<line x1="350.3" y1="15.11" x2="352.3" y2="15.11" stroke="#000" stroke-width="0.55"/>
<text class="d" transform="translate(348.4,17.27)" font-size="5.7" text-anchor="end">0.14</text>
<line x1="364.84" y1="160.75" x2="364.84" y2="162.75" stroke="#000" stroke-width="0.55"/>
<text class="d" transform="translate(364.84,169.89)" font-size="5.7" text-anchor="middle">0.0</text>
<line x1="389.2" y1="160.75" x2="389.2" y2="162.75" stroke="#000" stroke-width="0.55"/>
<text class="d" transform="translate(389.2,169.89)" font-size="5.7" text-anchor="middle">0.2</text>
<line x1="413.55" y1="160.75" x2="413.55" y2="162.75" stroke="#000" stroke-width="0.55"/>
<text class="d" transform="translate(413.55,169.89)" font-size="5.7" text-anchor="middle">0.4</text>
<text class="d" transform="translate(389.5,5.9)" font-size="6.9" text-anchor="middle">prediction</text>
<rect x="430.8" y="5.55" width="8.5" height="158.25" fill="#fff"/>
<rect x="431.1" y="8.55" width="7.9" height="152.25" fill="#dae319"/>
<rect x="431.1" y="25.47" width="7.9" height="135.33" fill="#90d743"/>
<rect x="431.1" y="42.38" width="7.9" height="118.42" fill="#4ec36b"/>
<rect x="431.1" y="59.3" width="7.9" height="101.5" fill="#25ab82"/>
<rect x="431.1" y="76.22" width="7.9" height="84.58" fill="#21918c"/>
<rect x="431.1" y="93.13" width="7.9" height="67.67" fill="#2b758e"/>
<rect x="431.1" y="110.05" width="7.9" height="50.75" fill="#375a8c"/>
<rect x="431.1" y="126.97" width="7.9" height="33.83" fill="#443983"/>
<rect x="431.1" y="143.88" width="7.9" height="16.92" fill="#481668"/>
<rect x="431.1" y="8.55" width="7.9" height="152.25" fill="none" stroke="#333" stroke-width="0.5"/>
<line x1="439" y1="160.8" x2="441.2" y2="160.8" stroke="#000" stroke-width="0.55"/>
<text class="d" transform="translate(443,163.48)" font-size="5.7">−3</text>
<line x1="439" y1="143.88" x2="441.2" y2="143.88" stroke="#000" stroke-width="0.55"/>
<text class="d" transform="translate(443,146.56)" font-size="5.7">0</text>
<line x1="439" y1="126.97" x2="441.2" y2="126.97" stroke="#000" stroke-width="0.55"/>
<text class="d" transform="translate(443,129.65)" font-size="5.7">3</text>
<line x1="439" y1="110.05" x2="441.2" y2="110.05" stroke="#000" stroke-width="0.55"/>
<text class="d" transform="translate(443,112.73)" font-size="5.7">6</text>
<line x1="439" y1="93.13" x2="441.2" y2="93.13" stroke="#000" stroke-width="0.55"/>
<text class="d" transform="translate(443,95.81)" font-size="5.7">9</text>
<line x1="439" y1="76.22" x2="441.2" y2="76.22" stroke="#000" stroke-width="0.55"/>
<text class="d" transform="translate(443,78.9)" font-size="5.7">12</text>
<line x1="439" y1="59.3" x2="441.2" y2="59.3" stroke="#000" stroke-width="0.55"/>
<text class="d" transform="translate(443,61.98)" font-size="5.7">15</text>
<line x1="439" y1="42.38" x2="441.2" y2="42.38" stroke="#000" stroke-width="0.55"/>
<text class="d" transform="translate(443,45.06)" font-size="5.7">18</text>
<line x1="439" y1="25.47" x2="441.2" y2="25.47" stroke="#000" stroke-width="0.55"/>
<text class="d" transform="translate(443,28.15)" font-size="5.7">21</text>
<line x1="439" y1="8.55" x2="441.2" y2="8.55" stroke="#000" stroke-width="0.55"/>
<text class="d" transform="translate(443,11.23)" font-size="5.7">24</text>
<clipPath id="c5"><rect x="495.3" y="8.6" width="69.3" height="152.15"/></clipPath>
<g clip-path="url(#c5)">
<rect x="494.3" y="7.6" width="71.3" height="154.15" fill="#2db27d"/>
<polygon points="507.16,19.41 541.56,16.78 544.56,49.84 547.95,114.9 547.95,114.9 548.03,115.27 548.16,115.79 548.29,116.42 548.42,117.14 548.49,117.94 548.53,118.86 548.55,119.92 548.53,121.04 548.5,122.15 548.44,123.18 548.35,124.14 548.22,125.08 548.08,125.98 547.92,126.82 547.75,127.59 547.56,128.31 547.36,128.98 547.15,129.58 546.92,130.11 546.68,130.53 546.43,130.85 546.17,131.08 545.9,131.22 545.59,131.28 545.25,131.26 544.87,131.13 544.45,130.88 544,130.57 543.53,130.26 543.05,130.01 542.5,129.81 541.89,129.64 541.27,129.49 540.75,129.36 540.37,129.27 540.37,129.27 540.21,130.51 540.01,132.23 539.74,134.27 539.4,136.49 538.97,138.71 538.39,141.12 537.69,143.8 536.93,146.52 536.2,149.04 535.59,151.1 535.11,152.62 534.72,153.78 534.37,154.68 534.02,155.46 533.64,156.24 533.17,157.03 532.65,157.75 532.14,158.38 531.7,158.9 531.39,159.28 515.49,159.07 515.2,159.02 514.79,158.98 514.32,158.9 513.85,158.73 513.45,158.44 513.11,158.03 512.8,157.54 512.52,156.94 512.27,156.23 512.05,155.4 511.88,154.29 511.75,152.93 511.65,151.52 511.58,150.28 511.52,149.42 510.76,134.52 510.06,114.9 507.27,49.84" fill="#73d056"/>
<polygon points="522.82,117.2 522.64,117.4 522.39,117.65 522.09,117.95 521.78,118.32 521.46,118.77 521.16,119.3 520.88,119.88 520.61,120.5 520.34,121.2 520.06,122.01 519.77,122.97 519.46,124.13 519.11,125.57 518.73,127.28 518.34,129.15 517.95,131.06 517.6,132.89 517.3,134.52 517.07,135.95 516.87,137.29 516.71,138.55 516.57,139.75 516.45,140.92 516.34,142.07 516.23,143.19 516.15,144.24 516.07,145.25 516.02,146.26 515.97,147.29 515.94,148.37 515.92,149.54 515.9,150.8 515.89,152.09 515.91,153.32 515.96,154.45 516.06,155.4 516.17,156.16 516.27,156.79 516.42,157.31 516.63,157.75 516.95,158.11 517.42,158.44 518.06,158.71 518.86,158.91 519.77,159.04 520.74,159.13 521.71,159.17 522.63,159.18 523.57,159.17 524.57,159.13 525.57,159.04 526.52,158.91 527.35,158.71 528.02,158.44 528.49,158.11 528.82,157.75 529.02,157.31 529.16,156.79 529.27,156.16 529.38,155.4 529.49,154.45 529.56,153.32 529.6,152.09 529.61,150.8 529.61,149.54 529.61,148.37 529.61,147.29 529.59,146.26 529.56,145.25 529.52,144.24 529.46,143.19 529.38,142.07 529.29,140.92 529.19,139.75 529.07,138.55 528.93,137.29 528.75,135.95 528.53,134.52 528.26,132.89 527.94,131.06 527.58,129.15 527.21,127.28 526.84,125.57 526.49,124.13 526.15,122.97 525.81,122.01 525.48,121.2 525.14,120.5 524.82,119.88 524.51,119.3 524.19,118.77 523.86,118.32 523.54,117.95 523.24,117.65 523,117.4 522.82,117.2" fill="#d0e11c"/>
<polygon points="503.42,162.01 503.42,160.75 503.9,160.48 504.58,160.09 505.31,159.61 505.92,159.07 506.35,158.45 506.71,157.73 507.01,156.98 507.28,156.24 507.5,155.37 507.67,154.41 507.82,153.62 507.96,153.3 508.08,153.63 508.18,154.42 508.29,155.39 508.41,156.24 508.55,156.93 508.71,157.62 508.88,158.26 509.09,158.86 509.37,159.43 509.7,159.97 510.01,160.43 510.23,160.75 510.23,162.01" fill="#21918c"/>
<polygon points="531.37,162.01 531.37,160.75 531.91,159.51 532.67,157.76 533.56,155.71 534.46,153.56 535.27,151.52 536.01,149.51 536.75,147.41 537.46,145.31 538.11,143.32 538.67,141.55 539.15,139.95 539.56,138.46 539.9,137.14 540.17,136.05 540.37,135.25 540.37,135.25 540.82,135.49 541.45,135.81 542.19,136.2 542.99,136.62 543.78,137.04 544.5,137.46 545.2,137.9 545.96,138.37 546.86,138.85 547.97,139.34 549.34,139.86 550.92,140.41 552.64,140.97 554.44,141.53 556.25,142.07 558.26,142.65 560.5,143.26 562.71,143.84 564.62,144.34 565.96,144.7 565.96,162.01" fill="#21918c"/>
<polygon points="532.16,162.01 532.16,160.75 532.62,159.66 533.26,158.13 534.01,156.32 534.78,154.41 535.5,152.57 536.18,150.69 536.9,148.67 537.59,146.65 538.24,144.76 538.79,143.12 539.24,141.74 539.62,140.51 539.93,139.46 540.18,138.61 540.37,137.98 540.37,137.98 541.01,138.51 541.88,139.25 542.93,140.13 544.07,141.09 545.25,142.07 546.48,143.09 547.82,144.19 549.22,145.34 550.65,146.5 552.06,147.63 553.45,148.79 554.86,149.99 556.28,151.17 557.69,152.26 559.09,153.19 560.58,153.97 562.18,154.62 563.71,155.16 565.03,155.6 565.96,155.92 565.96,162.01" fill="#2e6e8e"/>
<polygon points="532.73,162.01 532.73,160.75 533.15,159.81 533.75,158.5 534.45,156.94 535.17,155.27 535.84,153.61 536.48,151.85 537.14,149.9 537.79,147.94 538.39,146.15 538.9,144.7 539.32,143.63 539.67,142.83 539.97,142.24 540.2,141.79 540.37,141.44 540.37,141.44 541.01,141.95 541.88,142.65 542.93,143.5 544.07,144.47 545.25,145.53 546.51,146.77 547.9,148.2 549.35,149.71 550.76,151.16 552.06,152.46 553.28,153.58 554.47,154.61 555.59,155.56 556.58,156.44 557.39,157.29 557.98,158.12 558.38,158.94 558.66,159.68 558.86,160.3 559.02,160.75 559.02,162.01" fill="#3f4788"/>
<polygon points="533.49,162.01 533.49,160.75 533.66,160.34 533.89,159.79 534.17,159.14 534.48,158.39 534.81,157.59 535.16,156.76 535.53,155.82 535.95,154.74 536.39,153.6 536.84,152.49 537.27,151.48 537.65,150.68 537.99,150.07 538.3,149.6 538.59,149.25 538.87,148.97 539.16,148.76 539.47,148.58 539.77,148.43 540.07,148.35 540.37,148.33 540.69,148.36 541.07,148.44 541.51,148.58 542.03,148.74 542.62,148.94 543.26,149.18 543.92,149.5 544.59,149.92 545.25,150.47 545.93,151.18 546.65,152.04 547.37,153.01 548.07,154.02 548.7,155.01 549.22,155.92 549.63,156.82 549.96,157.76 550.23,158.68 550.44,159.52 550.6,160.23 550.74,160.75 550.74,162.01" fill="#481b6d"/>
</g>
<rect x="495.3" y="8.6" width="69.3" height="152.15" fill="none" stroke="#333" stroke-width="0.5"/>
<line x1="493.3" y1="141.02" x2="495.3" y2="141.02" stroke="#000" stroke-width="0.55"/>
<text class="d" transform="translate(491.4,143.19)" font-size="5.7" text-anchor="end">0.02</text>
<line x1="493.3" y1="120.04" x2="495.3" y2="120.04" stroke="#000" stroke-width="0.55"/>
<text class="d" transform="translate(491.4,122.2)" font-size="5.7" text-anchor="end">0.04</text>
<line x1="493.3" y1="99.05" x2="495.3" y2="99.05" stroke="#000" stroke-width="0.55"/>
<text class="d" transform="translate(491.4,101.22)" font-size="5.7" text-anchor="end">0.06</text>
<line x1="493.3" y1="78.06" x2="495.3" y2="78.06" stroke="#000" stroke-width="0.55"/>
<text class="d" transform="translate(491.4,80.23)" font-size="5.7" text-anchor="end">0.08</text>
<line x1="493.3" y1="57.08" x2="495.3" y2="57.08" stroke="#000" stroke-width="0.55"/>
<text class="d" transform="translate(491.4,59.24)" font-size="5.7" text-anchor="end">0.10</text>
<line x1="493.3" y1="36.09" x2="495.3" y2="36.09" stroke="#000" stroke-width="0.55"/>
<text class="d" transform="translate(491.4,38.26)" font-size="5.7" text-anchor="end">0.12</text>
<line x1="493.3" y1="15.11" x2="495.3" y2="15.11" stroke="#000" stroke-width="0.55"/>
<text class="d" transform="translate(491.4,17.27)" font-size="5.7" text-anchor="end">0.14</text>
<line x1="506.98" y1="160.75" x2="506.98" y2="162.75" stroke="#000" stroke-width="0.55"/>
<text class="d" transform="translate(506.98,169.89)" font-size="5.7" text-anchor="middle">0.0</text>
<line x1="529.67" y1="160.75" x2="529.67" y2="162.75" stroke="#000" stroke-width="0.55"/>
<text class="d" transform="translate(529.67,169.89)" font-size="5.7" text-anchor="middle">0.2</text>
<line x1="552.35" y1="160.75" x2="552.35" y2="162.75" stroke="#000" stroke-width="0.55"/>
<text class="d" transform="translate(552.35,169.89)" font-size="5.7" text-anchor="middle">0.4</text>
<text class="d" transform="translate(529.95,5.9)" font-size="6.9" text-anchor="middle">truth</text>
<rect x="478.4" y="5.55" width="8.9" height="158.25" fill="#fff"/>
<rect x="478.7" y="8.55" width="7.5" height="152.25" fill="#d0e11c"/>
<rect x="478.7" y="30.3" width="7.5" height="130.5" fill="#73d056"/>
<rect x="478.7" y="52.05" width="7.5" height="108.75" fill="#2db27d"/>
<rect x="478.7" y="73.8" width="7.5" height="87" fill="#21918c"/>
<rect x="478.7" y="95.55" width="7.5" height="65.25" fill="#2e6e8e"/>
<rect x="478.7" y="117.3" width="7.5" height="43.5" fill="#3f4788"/>
<rect x="478.7" y="139.05" width="7.5" height="21.75" fill="#481b6d"/>
<rect x="478.7" y="8.55" width="7.5" height="152.25" fill="none" stroke="#333" stroke-width="0.5"/>
<line x1="476.5" y1="160.8" x2="478.7" y2="160.8" stroke="#000" stroke-width="0.55"/>
<text class="d" transform="translate(474.2,163.48)" font-size="5.7" text-anchor="end">−5</text>
<line x1="476.5" y1="139.05" x2="478.7" y2="139.05" stroke="#000" stroke-width="0.55"/>
<text class="d" transform="translate(474.2,141.73)" font-size="5.7" text-anchor="end">0</text>
<line x1="476.5" y1="117.3" x2="478.7" y2="117.3" stroke="#000" stroke-width="0.55"/>
<text class="d" transform="translate(474.2,119.98)" font-size="5.7" text-anchor="end">5</text>
<line x1="476.5" y1="95.55" x2="478.7" y2="95.55" stroke="#000" stroke-width="0.55"/>
<text class="d" transform="translate(474.2,98.23)" font-size="5.7" text-anchor="end">10</text>
<line x1="476.5" y1="73.8" x2="478.7" y2="73.8" stroke="#000" stroke-width="0.55"/>
<text class="d" transform="translate(474.2,76.48)" font-size="5.7" text-anchor="end">15</text>
<line x1="476.5" y1="52.05" x2="478.7" y2="52.05" stroke="#000" stroke-width="0.55"/>
<text class="d" transform="translate(474.2,54.73)" font-size="5.7" text-anchor="end">20</text>
<line x1="476.5" y1="30.3" x2="478.7" y2="30.3" stroke="#000" stroke-width="0.55"/>
<text class="d" transform="translate(474.2,32.98)" font-size="5.7" text-anchor="end">25</text>
<line x1="476.5" y1="8.55" x2="478.7" y2="8.55" stroke="#000" stroke-width="0.55"/>
<text class="d" transform="translate(474.2,11.23)" font-size="5.7" text-anchor="end">30</text>
<clipPath id="c6"><rect x="583.5" y="8.6" width="74.7" height="152.15"/></clipPath>
<g clip-path="url(#c6)">
<rect x="582.5" y="7.6" width="76.7" height="154.15" fill="#2db27d"/>
<polygon points="596.95,21.09 606.12,19.09 632.5,18.36 635.89,49.84 639.87,107.45 639.87,107.45 639.99,108.09 640.17,108.96 640.37,110.04 640.55,111.29 640.67,112.69 640.73,114.37 640.76,116.34 640.76,118.41 640.73,120.41 640.67,122.14 640.57,123.59 640.43,124.89 640.26,126.06 640.07,127.09 639.87,128.01 639.67,128.79 639.45,129.43 639.21,129.94 638.94,130.37 638.64,130.74 638.31,131.04 637.94,131.25 637.55,131.38 637.13,131.45 636.68,131.47 636.19,131.42 635.67,131.28 635.12,131.1 634.55,130.9 633.99,130.74 633.38,130.6 632.71,130.45 632.06,130.31 631.5,130.19 631.11,130.11 631.11,130.11 630.92,131.45 630.66,133.32 630.35,135.52 629.96,137.84 629.52,140.08 628.96,142.34 628.28,144.78 627.56,147.21 626.88,149.44 626.33,151.31 625.92,152.73 625.61,153.82 625.36,154.7 625.11,155.47 624.82,156.24 624.47,157.02 624.09,157.74 623.71,158.37 623.38,158.9 623.15,159.28 605.26,159.07 604.95,159.02 604.5,158.98 603.99,158.9 603.48,158.73 603.06,158.44 602.72,158.03 602.42,157.54 602.15,156.94 601.92,156.23 601.72,155.4 601.56,154.29 601.44,152.93 601.35,151.52 601.28,150.28 601.23,149.42 600.49,134.52 599.14,99.89 597.05,49.84" fill="#73d056"/>
<polygon points="613.48,120.04 613.31,120.21 613.08,120.4 612.8,120.65 612.5,120.99 612.2,121.44 611.93,122.03 611.68,122.74 611.44,123.54 611.2,124.45 610.95,125.5 610.67,126.71 610.34,128.12 609.93,129.82 609.44,131.81 608.93,133.97 608.42,136.16 607.97,138.24 607.6,140.08 607.32,141.65 607.09,143.06 606.91,144.36 606.77,145.61 606.67,146.86 606.59,148.16 606.54,149.57 606.53,151.07 606.54,152.57 606.6,153.98 606.68,155.23 606.8,156.24 606.94,156.96 607.08,157.46 607.26,157.8 607.49,158.03 607.82,158.23 608.27,158.44 608.86,158.67 609.56,158.85 610.36,158.99 611.22,159.09 612.09,159.16 612.96,159.18 613.89,159.16 614.91,159.09 615.95,158.99 616.94,158.85 617.83,158.67 618.53,158.44 619.03,158.23 619.37,158.03 619.61,157.8 619.77,157.46 619.88,156.96 619.99,156.24 620.09,155.23 620.13,153.98 620.14,152.57 620.11,151.07 620.06,149.57 619.99,148.16 619.92,146.86 619.83,145.61 619.71,144.36 619.57,143.06 619.4,141.65 619.2,140.08 618.96,138.24 618.67,136.16 618.36,133.97 618.03,131.81 617.69,129.82 617.34,128.12 616.98,126.71 616.59,125.5 616.19,124.45 615.8,123.54 615.42,122.74 615.08,122.03 614.76,121.44 614.44,120.99 614.14,120.65 613.87,120.4 613.64,120.21 613.48,120.04" fill="#d0e11c"/>
<polygon points="593.95,162.01 593.95,160.75 594.47,160.48 595.21,160.09 595.99,159.61 596.64,159.07 597.11,158.45 597.5,157.73 597.82,156.98 598.11,156.24 598.35,155.37 598.54,154.41 598.69,153.62 598.84,153.3 598.98,153.63 599.09,154.42 599.2,155.39 599.33,156.24 599.49,156.93 599.65,157.62 599.84,158.26 600.07,158.86 600.37,159.43 600.72,159.97 601.06,160.43 601.29,160.75 601.29,162.01" fill="#21918c"/>
<polygon points="621.64,162.01 621.64,160.75 622.23,159.51 623.07,157.76 624.04,155.71 625.03,153.56 625.91,151.52 626.71,149.51 627.51,147.41 628.27,145.31 628.97,143.32 629.58,141.55 630.09,139.95 630.53,138.46 630.9,137.14 631.19,136.05 631.41,135.25 631.41,135.25 631.9,135.49 632.58,135.81 633.38,136.2 634.23,136.62 635.08,137.04 635.86,137.46 636.62,137.9 637.44,138.37 638.4,138.85 639.6,139.34 641.07,139.83 642.75,140.31 644.59,140.82 646.53,141.39 648.53,142.07 650.79,142.96 653.36,144.04 655.91,145.15 658.12,146.12 659.67,146.79 659.67,162.01" fill="#21918c"/>
<polygon points="622.5,162.01 622.5,160.75 623,159.66 623.7,158.13 624.53,156.32 625.37,154.41 626.16,152.57 626.9,150.69 627.67,148.69 628.42,146.67 629.11,144.78 629.7,143.12 630.19,141.69 630.6,140.39 630.94,139.26 631.21,138.34 631.41,137.67 631.41,137.67 632.09,138.25 633.04,139.06 634.17,140.01 635.4,141.05 636.67,142.07 638,143.11 639.44,144.21 640.95,145.35 642.49,146.5 644.01,147.63 645.5,148.8 647,150.02 648.51,151.21 650.03,152.3 651.59,153.19 653.3,153.89 655.17,154.42 656.99,154.84 658.56,155.15 659.67,155.4 659.67,162.01" fill="#2e6e8e"/>
<polygon points="623.11,162.01 623.11,160.75 623.58,159.81 624.24,158.5 625,156.94 625.79,155.27 626.52,153.61 627.22,151.86 627.93,149.93 628.63,147.98 629.27,146.18 629.82,144.7 630.28,143.55 630.66,142.63 630.97,141.91 631.22,141.35 631.41,140.92 631.41,140.92 632.09,141.51 633.04,142.32 634.17,143.3 635.4,144.39 636.67,145.53 638.03,146.81 639.53,148.24 641.09,149.73 642.61,151.17 644.01,152.46 645.29,153.58 646.51,154.61 647.67,155.56 648.75,156.44 649.75,157.29 650.69,158.12 651.58,158.94 652.38,159.68 653.04,160.3 653.52,160.75 653.52,162.01" fill="#3f4788"/>
<polygon points="623.94,162.01 623.94,160.75 624.13,160.34 624.39,159.79 624.7,159.14 625.04,158.39 625.41,157.59 625.79,156.76 626.2,155.82 626.65,154.74 627.13,153.6 627.61,152.49 628.06,151.48 628.48,150.68 628.84,150.07 629.18,149.6 629.49,149.25 629.79,148.97 630.1,148.76 630.44,148.58 630.77,148.43 631.08,148.35 631.41,148.33 631.76,148.36 632.16,148.44 632.64,148.58 633.2,148.74 633.84,148.94 634.52,149.18 635.24,149.5 635.96,149.92 636.67,150.47 637.4,151.18 638.19,152.04 638.98,153.01 639.73,154.02 640.4,155.01 640.95,155.92 641.36,156.82 641.66,157.76 641.88,158.68 642.04,159.52 642.16,160.23 642.27,160.75 642.27,162.01" fill="#481b6d"/>
</g>
<rect x="583.5" y="8.6" width="74.7" height="152.15" fill="none" stroke="#333" stroke-width="0.5"/>
<line x1="581.5" y1="141.02" x2="583.5" y2="141.02" stroke="#000" stroke-width="0.55"/>
<text class="d" transform="translate(579.6,143.19)" font-size="5.7" text-anchor="end">0.02</text>
<line x1="581.5" y1="120.04" x2="583.5" y2="120.04" stroke="#000" stroke-width="0.55"/>
<text class="d" transform="translate(579.6,122.2)" font-size="5.7" text-anchor="end">0.04</text>
<line x1="581.5" y1="99.05" x2="583.5" y2="99.05" stroke="#000" stroke-width="0.55"/>
<text class="d" transform="translate(579.6,101.22)" font-size="5.7" text-anchor="end">0.06</text>
<line x1="581.5" y1="78.06" x2="583.5" y2="78.06" stroke="#000" stroke-width="0.55"/>
<text class="d" transform="translate(579.6,80.23)" font-size="5.7" text-anchor="end">0.08</text>
<line x1="581.5" y1="57.08" x2="583.5" y2="57.08" stroke="#000" stroke-width="0.55"/>
<text class="d" transform="translate(579.6,59.24)" font-size="5.7" text-anchor="end">0.10</text>
<line x1="581.5" y1="36.09" x2="583.5" y2="36.09" stroke="#000" stroke-width="0.55"/>
<text class="d" transform="translate(579.6,38.26)" font-size="5.7" text-anchor="end">0.12</text>
<line x1="581.5" y1="15.11" x2="583.5" y2="15.11" stroke="#000" stroke-width="0.55"/>
<text class="d" transform="translate(579.6,17.27)" font-size="5.7" text-anchor="end">0.14</text>
<line x1="596.09" y1="160.75" x2="596.09" y2="162.75" stroke="#000" stroke-width="0.55"/>
<text class="d" transform="translate(596.09,169.89)" font-size="5.7" text-anchor="middle">0.0</text>
<line x1="620.54" y1="160.75" x2="620.54" y2="162.75" stroke="#000" stroke-width="0.55"/>
<text class="d" transform="translate(620.54,169.89)" font-size="5.7" text-anchor="middle">0.2</text>
<line x1="645" y1="160.75" x2="645" y2="162.75" stroke="#000" stroke-width="0.55"/>
<text class="d" transform="translate(645,169.89)" font-size="5.7" text-anchor="middle">0.4</text>
<text class="d" transform="translate(620.85,5.9)" font-size="6.9" text-anchor="middle">prediction</text>
<rect x="662.3" y="5.55" width="8.3" height="158.25" fill="#fff"/>
<rect x="662.6" y="8.55" width="7.7" height="152.25" fill="#d0e11c"/>
<rect x="662.6" y="30.3" width="7.7" height="130.5" fill="#73d056"/>
<rect x="662.6" y="52.05" width="7.7" height="108.75" fill="#2db27d"/>
<rect x="662.6" y="73.8" width="7.7" height="87" fill="#21918c"/>
<rect x="662.6" y="95.55" width="7.7" height="65.25" fill="#2e6e8e"/>
<rect x="662.6" y="117.3" width="7.7" height="43.5" fill="#3f4788"/>
<rect x="662.6" y="139.05" width="7.7" height="21.75" fill="#481b6d"/>
<rect x="662.6" y="8.55" width="7.7" height="152.25" fill="none" stroke="#333" stroke-width="0.5"/>
<line x1="670.3" y1="160.8" x2="672.5" y2="160.8" stroke="#000" stroke-width="0.55"/>
<text class="d" transform="translate(674.3,163.48)" font-size="5.7">−5</text>
<line x1="670.3" y1="139.05" x2="672.5" y2="139.05" stroke="#000" stroke-width="0.55"/>
<text class="d" transform="translate(674.3,141.73)" font-size="5.7">0</text>
<line x1="670.3" y1="117.3" x2="672.5" y2="117.3" stroke="#000" stroke-width="0.55"/>
<text class="d" transform="translate(674.3,119.98)" font-size="5.7">5</text>
<line x1="670.3" y1="95.55" x2="672.5" y2="95.55" stroke="#000" stroke-width="0.55"/>
<text class="d" transform="translate(674.3,98.23)" font-size="5.7">10</text>
<line x1="670.3" y1="73.8" x2="672.5" y2="73.8" stroke="#000" stroke-width="0.55"/>
<text class="d" transform="translate(674.3,76.48)" font-size="5.7">15</text>
<line x1="670.3" y1="52.05" x2="672.5" y2="52.05" stroke="#000" stroke-width="0.55"/>
<text class="d" transform="translate(674.3,54.73)" font-size="5.7">20</text>
<line x1="670.3" y1="30.3" x2="672.5" y2="30.3" stroke="#000" stroke-width="0.55"/>
<text class="d" transform="translate(674.3,32.98)" font-size="5.7">25</text>
<line x1="670.3" y1="8.55" x2="672.5" y2="8.55" stroke="#000" stroke-width="0.55"/>
<text class="d" transform="translate(674.3,11.23)" font-size="5.7">30</text>
<rect x="21.4" y="252.3" width="198.4" height="147.2" fill="#fff"/>
<line x1="39.5" y1="252.3" x2="39.5" y2="399.5" stroke="#b0b0b0" stroke-width="0.45"/>
<line x1="80.67" y1="252.3" x2="80.67" y2="399.5" stroke="#b0b0b0" stroke-width="0.45"/>
<line x1="121.84" y1="252.3" x2="121.84" y2="399.5" stroke="#b0b0b0" stroke-width="0.45"/>
<line x1="163.01" y1="252.3" x2="163.01" y2="399.5" stroke="#b0b0b0" stroke-width="0.45"/>
<line x1="204.18" y1="252.3" x2="204.18" y2="399.5" stroke="#b0b0b0" stroke-width="0.45"/>
<line x1="21.4" y1="394.4" x2="219.8" y2="394.4" stroke="#dcdcdc" stroke-width="1.3"/>
<line x1="21.4" y1="376.33" x2="219.8" y2="376.33" stroke="#dcdcdc" stroke-width="1.3"/>
<line x1="21.4" y1="358.26" x2="219.8" y2="358.26" stroke="#dcdcdc" stroke-width="1.3"/>
<line x1="21.4" y1="340.18" x2="219.8" y2="340.18" stroke="#dcdcdc" stroke-width="1.3"/>
<line x1="21.4" y1="322.11" x2="219.8" y2="322.11" stroke="#dcdcdc" stroke-width="1.3"/>
<line x1="21.4" y1="304.04" x2="219.8" y2="304.04" stroke="#dcdcdc" stroke-width="1.3"/>
<line x1="21.4" y1="285.97" x2="219.8" y2="285.97" stroke="#dcdcdc" stroke-width="1.3"/>
<line x1="21.4" y1="267.9" x2="219.8" y2="267.9" stroke="#dcdcdc" stroke-width="1.3"/>
<clipPath id="c7"><rect x="21.4" y="252.3" width="198.4" height="147.2"/></clipPath>
<g clip-path="url(#c7)" fill="none" stroke-width="1" stroke-linejoin="round" stroke-linecap="butt">
<polyline points="30.2,392.8 31.27,392.72 32.74,392.61 34.49,392.48 36.37,392.33 38.25,392.17 40,392 41.63,391.83 43.25,391.64 44.87,391.45 46.5,391.24 48.14,391.03 49.8,390.8 51.47,390.59 53.16,390.42 54.85,390.23 56.56,389.99 58.27,389.66 60,389.2 61.75,388.6 63.53,387.9 65.31,387.11 67.1,386.23 68.86,385.29 70.6,384.3 72.33,383.25 74.09,382.12 75.82,380.93 77.5,379.67 79.11,378.36 80.6,377 81.96,375.58 83.21,374.09 84.38,372.54 85.5,370.95 86.6,369.33 87.7,367.7 88.8,366.04 89.86,364.34 90.89,362.61 91.92,360.86 92.95,359.12 94,357.4 95.06,355.69 96.13,353.99 97.19,352.28 98.26,350.58 99.33,348.89 100.4,347.2 101.47,345.51 102.53,343.82 103.6,342.13 104.67,340.46 105.73,338.81 106.8,337.2 107.84,335.63 108.86,334.11 109.87,332.61 110.91,331.12 112.01,329.62 113.2,328.1 114.5,326.54 115.88,324.94 117.32,323.34 118.79,321.75 120.26,320.19 121.7,318.7 123.14,317.25 124.6,315.83 126.06,314.44 127.49,313.1 128.88,311.82 130.2,310.6 131.41,309.5 132.53,308.54 133.6,307.62 134.67,306.7 135.79,305.68 137,304.5 138.34,303.15 139.77,301.67 141.25,300.11 142.73,298.49 144.16,296.84 145.5,295.2 146.75,293.57 147.96,291.91 149.11,290.23 150.22,288.52 151.28,286.78 152.3,285 153.27,283.14 154.19,281.19 155.06,279.21 155.89,277.24 156.67,275.36 157.4,273.6 158.08,271.94 158.7,270.34 159.27,268.81 159.8,267.37 160.31,266.06 160.8,264.9 161.26,263.9 161.69,263.06 162.09,262.34 162.47,261.71 162.83,261.14 163.2,260.6 163.55,260.1 163.87,259.67 164.19,259.3 164.5,258.99 164.84,258.72 165.2,258.5 165.53,258.33 165.81,258.22 166.11,258.16 166.49,258.14 167.03,258.15 167.8,258.2 168.75,258.29 169.82,258.44 171.05,258.63 172.48,258.83 174.15,259.03 176.1,259.2 178.42,259.34 181.09,259.46 184,259.57 187.04,259.69 190.11,259.83 193.1,260 196.24,260.23 199.66,260.5 203.11,260.8 206.33,261.09 209.04,261.33 211,261.5" stroke="#1f77b4"/>
<polyline points="30.2,392.8 31.27,392.72 32.74,392.6 34.49,392.47 36.37,392.32 38.25,392.16 40,392 41.63,391.83 43.25,391.65 44.87,391.46 46.5,391.27 48.14,391.08 49.8,390.9 51.47,390.77 53.16,390.69 54.85,390.62 56.56,390.5 58.27,390.27 60,389.9 61.75,389.38 63.53,388.75 65.31,388.02 67.1,387.2 68.86,386.29 70.6,385.3 72.33,384.22 74.09,383.04 75.82,381.78 77.5,380.44 79.11,379.05 80.6,377.6 81.96,376.08 83.21,374.48 84.38,372.81 85.5,371.11 86.6,369.4 87.7,367.7 88.8,366.01 89.86,364.29 90.89,362.57 91.92,360.84 92.95,359.12 94,357.4 95.06,355.69 96.13,353.99 97.19,352.28 98.26,350.58 99.33,348.89 100.4,347.2 101.47,345.51 102.53,343.82 103.6,342.13 104.67,340.46 105.73,338.81 106.8,337.2 107.84,335.63 108.86,334.11 109.87,332.61 110.91,331.12 112.01,329.62 113.2,328.1 114.5,326.54 115.88,324.94 117.32,323.34 118.79,321.75 120.26,320.19 121.7,318.7 123.14,317.25 124.6,315.83 126.06,314.44 127.49,313.1 128.88,311.82 130.2,310.6 131.41,309.5 132.53,308.54 133.6,307.62 134.67,306.7 135.79,305.68 137,304.5 138.34,303.15 139.77,301.67 141.25,300.11 142.73,298.49 144.16,296.84 145.5,295.2 146.75,293.56 147.96,291.9 149.11,290.21 150.22,288.5 151.28,286.76 152.3,285 153.27,283.17 154.19,281.27 155.06,279.34 155.89,277.44 156.67,275.61 157.4,273.9 158.07,272.28 158.69,270.71 159.26,269.22 159.79,267.82 160.3,266.54 160.8,265.4 161.28,264.43 161.74,263.61 162.18,262.91 162.59,262.3 163,261.74 163.4,261.2 163.79,260.69 164.16,260.23 164.53,259.82 164.88,259.46 165.24,259.16 165.6,258.9 165.9,258.7 166.11,258.55 166.32,258.46 166.61,258.4 167.08,258.39 167.8,258.4 168.73,258.46 169.79,258.57 171.03,258.72 172.46,258.89 174.14,259.05 176.1,259.2 178.42,259.33 181.09,259.44 184,259.56 187.04,259.68 190.11,259.83 193.1,260 196.24,260.23 199.66,260.5 203.11,260.8 206.33,261.09 209.04,261.33 211,261.5" stroke="#ff7f0e"/>
</g>
<rect x="21.4" y="252.3" width="198.4" height="147.2" fill="none" stroke="#222" stroke-width="0.5"/>
<line x1="23.12" y1="399.5" x2="23.12" y2="400.7" stroke="#111" stroke-width="0.45"/>
<line x1="27.11" y1="399.5" x2="27.11" y2="400.7" stroke="#111" stroke-width="0.45"/>
<line x1="30.37" y1="399.5" x2="30.37" y2="400.7" stroke="#111" stroke-width="0.45"/>
<line x1="33.12" y1="399.5" x2="33.12" y2="400.7" stroke="#111" stroke-width="0.45"/>
<line x1="35.51" y1="399.5" x2="35.51" y2="400.7" stroke="#111" stroke-width="0.45"/>
<line x1="37.62" y1="399.5" x2="37.62" y2="400.7" stroke="#111" stroke-width="0.45"/>
<line x1="39.5" y1="399.5" x2="39.5" y2="401.5" stroke="#000" stroke-width="0.5"/>
<text class="d" transform="translate(39.5,409.7) scale(0.97,1)" font-size="5.5" text-anchor="middle">10<tspan font-size="4.4" dy="-2.2">−5</tspan></text>
<line x1="51.89" y1="399.5" x2="51.89" y2="400.7" stroke="#111" stroke-width="0.45"/>
<line x1="59.14" y1="399.5" x2="59.14" y2="400.7" stroke="#111" stroke-width="0.45"/>
<line x1="64.29" y1="399.5" x2="64.29" y2="400.7" stroke="#111" stroke-width="0.45"/>
<line x1="68.28" y1="399.5" x2="68.28" y2="400.7" stroke="#111" stroke-width="0.45"/>
<line x1="71.54" y1="399.5" x2="71.54" y2="400.7" stroke="#111" stroke-width="0.45"/>
<line x1="74.29" y1="399.5" x2="74.29" y2="400.7" stroke="#111" stroke-width="0.45"/>
<line x1="76.68" y1="399.5" x2="76.68" y2="400.7" stroke="#111" stroke-width="0.45"/>
<line x1="78.79" y1="399.5" x2="78.79" y2="400.7" stroke="#111" stroke-width="0.45"/>
<line x1="80.67" y1="399.5" x2="80.67" y2="401.5" stroke="#000" stroke-width="0.5"/>
<text class="d" transform="translate(80.67,409.7) scale(0.97,1)" font-size="5.5" text-anchor="middle">10<tspan font-size="4.4" dy="-2.2">−4</tspan></text>
<line x1="93.06" y1="399.5" x2="93.06" y2="400.7" stroke="#111" stroke-width="0.45"/>
<line x1="100.31" y1="399.5" x2="100.31" y2="400.7" stroke="#111" stroke-width="0.45"/>
<line x1="105.46" y1="399.5" x2="105.46" y2="400.7" stroke="#111" stroke-width="0.45"/>
<line x1="109.45" y1="399.5" x2="109.45" y2="400.7" stroke="#111" stroke-width="0.45"/>
<line x1="112.71" y1="399.5" x2="112.71" y2="400.7" stroke="#111" stroke-width="0.45"/>
<line x1="115.46" y1="399.5" x2="115.46" y2="400.7" stroke="#111" stroke-width="0.45"/>
<line x1="117.85" y1="399.5" x2="117.85" y2="400.7" stroke="#111" stroke-width="0.45"/>
<line x1="119.96" y1="399.5" x2="119.96" y2="400.7" stroke="#111" stroke-width="0.45"/>
<line x1="121.84" y1="399.5" x2="121.84" y2="401.5" stroke="#000" stroke-width="0.5"/>
<text class="d" transform="translate(121.84,409.7) scale(0.97,1)" font-size="5.5" text-anchor="middle">10<tspan font-size="4.4" dy="-2.2">−3</tspan></text>
<line x1="134.23" y1="399.5" x2="134.23" y2="400.7" stroke="#111" stroke-width="0.45"/>
<line x1="141.48" y1="399.5" x2="141.48" y2="400.7" stroke="#111" stroke-width="0.45"/>
<line x1="146.63" y1="399.5" x2="146.63" y2="400.7" stroke="#111" stroke-width="0.45"/>
<line x1="150.62" y1="399.5" x2="150.62" y2="400.7" stroke="#111" stroke-width="0.45"/>
<line x1="153.88" y1="399.5" x2="153.88" y2="400.7" stroke="#111" stroke-width="0.45"/>
<line x1="156.63" y1="399.5" x2="156.63" y2="400.7" stroke="#111" stroke-width="0.45"/>
<line x1="159.02" y1="399.5" x2="159.02" y2="400.7" stroke="#111" stroke-width="0.45"/>
<line x1="161.13" y1="399.5" x2="161.13" y2="400.7" stroke="#111" stroke-width="0.45"/>
<line x1="163.01" y1="399.5" x2="163.01" y2="401.5" stroke="#000" stroke-width="0.5"/>
<text class="d" transform="translate(163.01,409.7) scale(0.97,1)" font-size="5.5" text-anchor="middle">10<tspan font-size="4.4" dy="-2.2">−2</tspan></text>
<line x1="175.4" y1="399.5" x2="175.4" y2="400.7" stroke="#111" stroke-width="0.45"/>
<line x1="182.65" y1="399.5" x2="182.65" y2="400.7" stroke="#111" stroke-width="0.45"/>
<line x1="187.8" y1="399.5" x2="187.8" y2="400.7" stroke="#111" stroke-width="0.45"/>
<line x1="191.79" y1="399.5" x2="191.79" y2="400.7" stroke="#111" stroke-width="0.45"/>
<line x1="195.05" y1="399.5" x2="195.05" y2="400.7" stroke="#111" stroke-width="0.45"/>
<line x1="197.8" y1="399.5" x2="197.8" y2="400.7" stroke="#111" stroke-width="0.45"/>
<line x1="200.19" y1="399.5" x2="200.19" y2="400.7" stroke="#111" stroke-width="0.45"/>
<line x1="202.3" y1="399.5" x2="202.3" y2="400.7" stroke="#111" stroke-width="0.45"/>
<line x1="204.18" y1="399.5" x2="204.18" y2="401.5" stroke="#000" stroke-width="0.5"/>
<text class="d" transform="translate(204.18,409.7) scale(0.97,1)" font-size="5.5" text-anchor="middle">10<tspan font-size="4.4" dy="-2.2">−1</tspan></text>
<line x1="216.57" y1="399.5" x2="216.57" y2="400.7" stroke="#111" stroke-width="0.45"/>
<line x1="19.4" y1="394.4" x2="21.4" y2="394.4" stroke="#000" stroke-width="0.5"/>
<text class="d" transform="translate(17.4,396.71) scale(0.97,1)" font-size="5.5" text-anchor="end">0</text>
<line x1="19.4" y1="376.33" x2="21.4" y2="376.33" stroke="#000" stroke-width="0.5"/>
<text class="d" transform="translate(17.4,378.64) scale(0.97,1)" font-size="5.5" text-anchor="end">2</text>
<line x1="19.4" y1="358.26" x2="21.4" y2="358.26" stroke="#000" stroke-width="0.5"/>
<text class="d" transform="translate(17.4,360.57) scale(0.97,1)" font-size="5.5" text-anchor="end">4</text>
<line x1="19.4" y1="340.18" x2="21.4" y2="340.18" stroke="#000" stroke-width="0.5"/>
<text class="d" transform="translate(17.4,342.49) scale(0.97,1)" font-size="5.5" text-anchor="end">6</text>
<line x1="19.4" y1="322.11" x2="21.4" y2="322.11" stroke="#000" stroke-width="0.5"/>
<text class="d" transform="translate(17.4,324.42) scale(0.97,1)" font-size="5.5" text-anchor="end">8</text>
<line x1="19.4" y1="304.04" x2="21.4" y2="304.04" stroke="#000" stroke-width="0.5"/>
<text class="d" transform="translate(17.4,306.35) scale(0.97,1)" font-size="5.5" text-anchor="end">10</text>
<line x1="19.4" y1="285.97" x2="21.4" y2="285.97" stroke="#000" stroke-width="0.5"/>
<text class="d" transform="translate(17.4,288.28) scale(0.97,1)" font-size="5.5" text-anchor="end">12</text>
<line x1="19.4" y1="267.9" x2="21.4" y2="267.9" stroke="#000" stroke-width="0.5"/>
<text class="d" transform="translate(17.4,270.21) scale(0.97,1)" font-size="5.5" text-anchor="end">14</text>
<text class="d" transform="translate(120.6,249) scale(0.97,1)" font-size="6.6" text-anchor="middle">x = 0.3834388</text>
<text class="d" transform="translate(120.6,417.8) scale(0.97,1)" font-size="5.5" text-anchor="middle">wallDistance</text>
<text class="d" transform="translate(6.4,327.1) rotate(-90) scale(0.97,1)" font-size="5.5" text-anchor="middle">U_x</text>
<rect x="24.2" y="254.6" width="48.3" height="18.7" rx="1" fill="#fff" fill-opacity="0.8" stroke="#ccc" stroke-width="0.6"/>
<line x1="26.3" y1="259.3" x2="38" y2="259.3" stroke="#1f77b4" stroke-width="0.7"/>
<line x1="26.3" y1="267.8" x2="38" y2="267.8" stroke="#ff7f0e" stroke-width="0.7"/>
<text class="d" transform="translate(42.3,262.01) scale(0.97,1)" font-size="5.5">truth</text>
<text class="d" transform="translate(42.3,270.51) scale(0.97,1)" font-size="5.5">prediction</text>
<rect x="257.1" y="259.45" width="189.8" height="140.85" fill="#fff"/>
<line x1="273.5" y1="259.45" x2="273.5" y2="400.3" stroke="#b0b0b0" stroke-width="0.45"/>
<line x1="316.55" y1="259.45" x2="316.55" y2="400.3" stroke="#b0b0b0" stroke-width="0.45"/>
<line x1="359.6" y1="259.45" x2="359.6" y2="400.3" stroke="#b0b0b0" stroke-width="0.45"/>
<line x1="402.65" y1="259.45" x2="402.65" y2="400.3" stroke="#b0b0b0" stroke-width="0.45"/>
<line x1="445.7" y1="259.45" x2="445.7" y2="400.3" stroke="#b0b0b0" stroke-width="0.45"/>
<line x1="257.1" y1="395.4" x2="446.9" y2="395.4" stroke="#c4c4c4" stroke-width="0.6"/>
<line x1="257.1" y1="376.26" x2="446.9" y2="376.26" stroke="#c4c4c4" stroke-width="0.6"/>
<line x1="257.1" y1="357.12" x2="446.9" y2="357.12" stroke="#c4c4c4" stroke-width="0.6"/>
<line x1="257.1" y1="337.97" x2="446.9" y2="337.97" stroke="#c4c4c4" stroke-width="0.6"/>
<line x1="257.1" y1="318.83" x2="446.9" y2="318.83" stroke="#c4c4c4" stroke-width="0.6"/>
<line x1="257.1" y1="299.69" x2="446.9" y2="299.69" stroke="#c4c4c4" stroke-width="0.6"/>
<line x1="257.1" y1="280.54" x2="446.9" y2="280.54" stroke="#c4c4c4" stroke-width="0.6"/>
<line x1="257.1" y1="261.4" x2="446.9" y2="261.4" stroke="#c4c4c4" stroke-width="0.6"/>
<clipPath id="c8"><rect x="257.1" y="259.45" width="189.8" height="140.85"/></clipPath>
<g clip-path="url(#c8)" fill="none" stroke-width="0.8" stroke-linejoin="round" stroke-linecap="butt">
<polyline points="265.4,394 266.38,393.89 267.69,393.73 269.26,393.55 271.04,393.34 272.98,393.12 275,392.9 277.21,392.69 279.68,392.5 282.3,392.29 284.96,392.04 287.56,391.72 290,391.3 292.25,390.82 294.4,390.3 296.49,389.71 298.56,389.01 300.65,388.19 302.8,387.2 305.06,386.02 307.4,384.69 309.76,383.21 312.08,381.64 314.28,379.99 316.3,378.3 318.12,376.53 319.8,374.66 321.36,372.71 322.84,370.73 324.28,368.75 325.7,366.8 327.08,364.88 328.39,362.97 329.66,361.05 330.9,359.13 332.14,357.22 333.4,355.3 334.67,353.37 335.92,351.42 337.18,349.47 338.44,347.54 339.75,345.64 341.1,343.8 342.51,341.99 343.96,340.18 345.44,338.41 346.95,336.71 348.47,335.09 350,333.6 351.5,332.26 352.99,331.06 354.49,329.96 356.03,328.89 357.66,327.82 359.4,326.7 361.31,325.54 363.36,324.37 365.5,323.2 367.65,322.02 369.74,320.82 371.7,319.6 373.54,318.4 375.3,317.22 377.01,316.03 378.67,314.77 380.3,313.41 381.9,311.9 383.49,310.22 385.06,308.39 386.59,306.46 388.07,304.46 389.48,302.43 390.8,300.4 392.03,298.34 393.16,296.23 394.23,294.08 395.25,291.93 396.23,289.79 397.2,287.7 398.17,285.58 399.13,283.4 400.06,281.24 400.93,279.19 401.72,277.31 402.4,275.7 402.95,274.39 403.39,273.33 403.74,272.45 404.05,271.69 404.36,271 404.7,270.3 405.07,269.62 405.42,269.01 405.77,268.47 406.13,267.97 406.51,267.52 406.9,267.1 407.32,266.71 407.76,266.36 408.22,266.05 408.68,265.79 409.14,265.57 409.6,265.4 410.04,265.29 410.47,265.25 410.89,265.25 411.33,265.29 411.8,265.34 412.3,265.4 412.81,265.48 413.3,265.6 413.82,265.74 414.4,265.88 415.08,266 415.9,266.1 416.8,266.16 417.74,266.21 418.79,266.24 419.99,266.27 421.41,266.28 423.1,266.3 425.32,266.31 428.08,266.31 431.05,266.31 433.92,266.31 436.38,266.3 438.1,266.3" stroke="#1f77b4"/>
<polyline points="265.4,393.4 266.38,393.29 267.69,393.15 269.26,392.98 271.04,392.79 272.98,392.6 275,392.4 277.21,392.23 279.68,392.09 282.3,391.93 284.96,391.74 287.56,391.47 290,391.1 292.25,390.66 294.4,390.18 296.49,389.62 298.56,388.97 300.65,388.17 302.8,387.2 305.06,386.04 307.4,384.7 309.76,383.22 312.08,381.64 314.28,379.99 316.3,378.3 318.12,376.53 319.8,374.66 321.36,372.71 322.84,370.73 324.28,368.75 325.7,366.8 327.08,364.88 328.39,362.97 329.66,361.05 330.9,359.13 332.14,357.22 333.4,355.3 334.67,353.37 335.92,351.42 337.18,349.47 338.44,347.54 339.75,345.64 341.1,343.8 342.51,341.99 343.96,340.18 345.44,338.41 346.95,336.71 348.47,335.09 350,333.6 351.5,332.26 352.99,331.06 354.49,329.96 356.03,328.89 357.66,327.82 359.4,326.7 361.31,325.54 363.36,324.37 365.5,323.2 367.65,322.02 369.74,320.82 371.7,319.6 373.54,318.4 375.3,317.22 377.01,316.03 378.67,314.77 380.3,313.41 381.9,311.9 383.49,310.22 385.06,308.39 386.59,306.46 388.07,304.46 389.48,302.43 390.8,300.4 392.03,298.34 393.16,296.23 394.23,294.08 395.25,291.93 396.23,289.79 397.2,287.7 398.17,285.58 399.13,283.4 400.06,281.24 400.93,279.19 401.72,277.31 402.4,275.7 402.95,274.39 403.39,273.33 403.74,272.45 404.05,271.69 404.36,271 404.7,270.3 405.07,269.62 405.42,269.01 405.77,268.47 406.13,267.97 406.51,267.52 406.9,267.1 407.32,266.71 407.76,266.36 408.22,266.05 408.68,265.79 409.14,265.57 409.6,265.4 410.04,265.29 410.47,265.25 410.89,265.25 411.33,265.29 411.8,265.34 412.3,265.4 412.81,265.48 413.3,265.6 413.82,265.74 414.4,265.88 415.08,266 415.9,266.1 416.8,266.16 417.74,266.21 418.79,266.24 419.99,266.27 421.41,266.28 423.1,266.3 425.32,266.31 428.08,266.31 431.05,266.31 433.92,266.31 436.38,266.3 438.1,266.3" stroke="#ff7f0e"/>
</g>
<rect x="257.1" y="259.45" width="189.8" height="140.85" fill="none" stroke="#222" stroke-width="0.5"/>
<line x1="260.54" y1="400.3" x2="260.54" y2="401.5" stroke="#111" stroke-width="0.45"/>
<line x1="263.95" y1="400.3" x2="263.95" y2="401.5" stroke="#111" stroke-width="0.45"/>
<line x1="266.83" y1="400.3" x2="266.83" y2="401.5" stroke="#111" stroke-width="0.45"/>
<line x1="269.33" y1="400.3" x2="269.33" y2="401.5" stroke="#111" stroke-width="0.45"/>
<line x1="271.53" y1="400.3" x2="271.53" y2="401.5" stroke="#111" stroke-width="0.45"/>
<line x1="273.5" y1="400.3" x2="273.5" y2="402.3" stroke="#000" stroke-width="0.5"/>
<text class="d" transform="translate(273.5,410.5) scale(1,1)" font-size="5.15" text-anchor="middle">10<tspan font-size="4.12" dy="-2.06">−5</tspan></text>
<line x1="286.46" y1="400.3" x2="286.46" y2="401.5" stroke="#111" stroke-width="0.45"/>
<line x1="294.04" y1="400.3" x2="294.04" y2="401.5" stroke="#111" stroke-width="0.45"/>
<line x1="299.42" y1="400.3" x2="299.42" y2="401.5" stroke="#111" stroke-width="0.45"/>
<line x1="303.59" y1="400.3" x2="303.59" y2="401.5" stroke="#111" stroke-width="0.45"/>
<line x1="307" y1="400.3" x2="307" y2="401.5" stroke="#111" stroke-width="0.45"/>
<line x1="309.88" y1="400.3" x2="309.88" y2="401.5" stroke="#111" stroke-width="0.45"/>
<line x1="312.38" y1="400.3" x2="312.38" y2="401.5" stroke="#111" stroke-width="0.45"/>
<line x1="314.58" y1="400.3" x2="314.58" y2="401.5" stroke="#111" stroke-width="0.45"/>
<line x1="316.55" y1="400.3" x2="316.55" y2="402.3" stroke="#000" stroke-width="0.5"/>
<text class="d" transform="translate(316.55,410.5) scale(1,1)" font-size="5.15" text-anchor="middle">10<tspan font-size="4.12" dy="-2.06">−4</tspan></text>
<line x1="329.51" y1="400.3" x2="329.51" y2="401.5" stroke="#111" stroke-width="0.45"/>
<line x1="337.09" y1="400.3" x2="337.09" y2="401.5" stroke="#111" stroke-width="0.45"/>
<line x1="342.47" y1="400.3" x2="342.47" y2="401.5" stroke="#111" stroke-width="0.45"/>
<line x1="346.64" y1="400.3" x2="346.64" y2="401.5" stroke="#111" stroke-width="0.45"/>
<line x1="350.05" y1="400.3" x2="350.05" y2="401.5" stroke="#111" stroke-width="0.45"/>
<line x1="352.93" y1="400.3" x2="352.93" y2="401.5" stroke="#111" stroke-width="0.45"/>
<line x1="355.43" y1="400.3" x2="355.43" y2="401.5" stroke="#111" stroke-width="0.45"/>
<line x1="357.63" y1="400.3" x2="357.63" y2="401.5" stroke="#111" stroke-width="0.45"/>
<line x1="359.6" y1="400.3" x2="359.6" y2="402.3" stroke="#000" stroke-width="0.5"/>
<text class="d" transform="translate(359.6,410.5) scale(1,1)" font-size="5.15" text-anchor="middle">10<tspan font-size="4.12" dy="-2.06">−3</tspan></text>
<line x1="372.56" y1="400.3" x2="372.56" y2="401.5" stroke="#111" stroke-width="0.45"/>
<line x1="380.14" y1="400.3" x2="380.14" y2="401.5" stroke="#111" stroke-width="0.45"/>
<line x1="385.52" y1="400.3" x2="385.52" y2="401.5" stroke="#111" stroke-width="0.45"/>
<line x1="389.69" y1="400.3" x2="389.69" y2="401.5" stroke="#111" stroke-width="0.45"/>
<line x1="393.1" y1="400.3" x2="393.1" y2="401.5" stroke="#111" stroke-width="0.45"/>
<line x1="395.98" y1="400.3" x2="395.98" y2="401.5" stroke="#111" stroke-width="0.45"/>
<line x1="398.48" y1="400.3" x2="398.48" y2="401.5" stroke="#111" stroke-width="0.45"/>
<line x1="400.68" y1="400.3" x2="400.68" y2="401.5" stroke="#111" stroke-width="0.45"/>
<line x1="402.65" y1="400.3" x2="402.65" y2="402.3" stroke="#000" stroke-width="0.5"/>
<text class="d" transform="translate(402.65,410.5) scale(1,1)" font-size="5.15" text-anchor="middle">10<tspan font-size="4.12" dy="-2.06">−2</tspan></text>
<line x1="415.61" y1="400.3" x2="415.61" y2="401.5" stroke="#111" stroke-width="0.45"/>
<line x1="423.19" y1="400.3" x2="423.19" y2="401.5" stroke="#111" stroke-width="0.45"/>
<line x1="428.57" y1="400.3" x2="428.57" y2="401.5" stroke="#111" stroke-width="0.45"/>
<line x1="432.74" y1="400.3" x2="432.74" y2="401.5" stroke="#111" stroke-width="0.45"/>
<line x1="436.15" y1="400.3" x2="436.15" y2="401.5" stroke="#111" stroke-width="0.45"/>
<line x1="439.03" y1="400.3" x2="439.03" y2="401.5" stroke="#111" stroke-width="0.45"/>
<line x1="441.53" y1="400.3" x2="441.53" y2="401.5" stroke="#111" stroke-width="0.45"/>
<line x1="443.73" y1="400.3" x2="443.73" y2="401.5" stroke="#111" stroke-width="0.45"/>
<line x1="445.7" y1="400.3" x2="445.7" y2="402.3" stroke="#000" stroke-width="0.5"/>
<text class="d" transform="translate(445.7,410.5) scale(1,1)" font-size="5.15" text-anchor="middle">10<tspan font-size="4.12" dy="-2.06">−1</tspan></text>
<line x1="255.1" y1="395.4" x2="257.1" y2="395.4" stroke="#000" stroke-width="0.5"/>
<text class="d" transform="translate(253.1,397.56)" font-size="5.15" text-anchor="end">0.0</text>
<line x1="255.1" y1="376.26" x2="257.1" y2="376.26" stroke="#000" stroke-width="0.5"/>
<text class="d" transform="translate(253.1,378.42)" font-size="5.15" text-anchor="end">2.5</text>
<line x1="255.1" y1="357.12" x2="257.1" y2="357.12" stroke="#000" stroke-width="0.5"/>
<text class="d" transform="translate(253.1,359.28)" font-size="5.15" text-anchor="end">5.0</text>
<line x1="255.1" y1="337.97" x2="257.1" y2="337.97" stroke="#000" stroke-width="0.5"/>
<text class="d" transform="translate(253.1,340.14)" font-size="5.15" text-anchor="end">7.5</text>
<line x1="255.1" y1="318.83" x2="257.1" y2="318.83" stroke="#000" stroke-width="0.5"/>
<text class="d" transform="translate(253.1,320.99)" font-size="5.15" text-anchor="end">10.0</text>
<line x1="255.1" y1="299.69" x2="257.1" y2="299.69" stroke="#000" stroke-width="0.5"/>
<text class="d" transform="translate(253.1,301.85)" font-size="5.15" text-anchor="end">12.5</text>
<line x1="255.1" y1="280.54" x2="257.1" y2="280.54" stroke="#000" stroke-width="0.5"/>
<text class="d" transform="translate(253.1,282.71)" font-size="5.15" text-anchor="end">15.0</text>
<line x1="255.1" y1="261.4" x2="257.1" y2="261.4" stroke="#000" stroke-width="0.5"/>
<text class="d" transform="translate(253.1,263.57)" font-size="5.15" text-anchor="end">17.5</text>
<text class="d" transform="translate(352,256.7)" font-size="6.18" text-anchor="middle">x = 0.3875032</text>
<text class="d" transform="translate(352,418.6)" font-size="5.15" text-anchor="middle">wallDistance</text>
<text class="d" transform="translate(238.3,331.38) rotate(-90)" font-size="5.15" text-anchor="middle">U_x</text>
<rect x="258.9" y="261.2" width="46" height="18.5" rx="1" fill="#fff" fill-opacity="0.8" stroke="#ccc" stroke-width="0.6"/>
<line x1="261.6" y1="266.4" x2="273" y2="266.4" stroke="#1f77b4" stroke-width="0.7"/>
<line x1="261.6" y1="274.2" x2="273" y2="274.2" stroke="#ff7f0e" stroke-width="0.7"/>
<text class="d" transform="translate(277,269)" font-size="5.15">truth</text>
<text class="d" transform="translate(277,276.8)" font-size="5.15">prediction</text>
<rect x="489" y="256.5" width="193.4" height="143.8" fill="#fff"/>
<line x1="505.5" y1="256.5" x2="505.5" y2="400.3" stroke="#b0b0b0" stroke-width="0.45"/>
<line x1="547.05" y1="256.5" x2="547.05" y2="400.3" stroke="#b0b0b0" stroke-width="0.45"/>
<line x1="588.6" y1="256.5" x2="588.6" y2="400.3" stroke="#b0b0b0" stroke-width="0.45"/>
<line x1="630.15" y1="256.5" x2="630.15" y2="400.3" stroke="#b0b0b0" stroke-width="0.45"/>
<line x1="671.7" y1="256.5" x2="671.7" y2="400.3" stroke="#b0b0b0" stroke-width="0.45"/>
<line x1="489" y1="393.45" x2="682.4" y2="393.45" stroke="#c4c4c4" stroke-width="0.6"/>
<line x1="489" y1="376.69" x2="682.4" y2="376.69" stroke="#c4c4c4" stroke-width="0.6"/>
<line x1="489" y1="359.94" x2="682.4" y2="359.94" stroke="#c4c4c4" stroke-width="0.6"/>
<line x1="489" y1="343.18" x2="682.4" y2="343.18" stroke="#c4c4c4" stroke-width="0.6"/>
<line x1="489" y1="326.43" x2="682.4" y2="326.43" stroke="#c4c4c4" stroke-width="0.6"/>
<line x1="489" y1="309.67" x2="682.4" y2="309.67" stroke="#c4c4c4" stroke-width="0.6"/>
<line x1="489" y1="292.91" x2="682.4" y2="292.91" stroke="#c4c4c4" stroke-width="0.6"/>
<line x1="489" y1="276.16" x2="682.4" y2="276.16" stroke="#c4c4c4" stroke-width="0.6"/>
<line x1="489" y1="259.4" x2="682.4" y2="259.4" stroke="#c4c4c4" stroke-width="0.6"/>
<clipPath id="c9"><rect x="489" y="256.5" width="193.4" height="143.8"/></clipPath>
<g clip-path="url(#c9)" fill="none" stroke-width="0.85" stroke-linejoin="round" stroke-linecap="butt">
<polyline points="497.1,393.4 499.54,393.4 502.87,393.41 506.84,393.41 511.19,393.41 515.66,393.41 520,393.4 524.5,393.39 529.43,393.37 534.49,393.36 539.37,393.33 543.77,393.28 547.4,393.2 550.1,393.11 552.09,393 553.6,392.88 554.88,392.73 556.16,392.54 557.7,392.3 559.45,392 561.21,391.63 562.98,391.23 564.76,390.8 566.53,390.39 568.3,390 570.07,389.64 571.86,389.29 573.64,388.94 575.41,388.6 577.17,388.25 578.9,387.9 580.59,387.54 582.23,387.19 583.86,386.84 585.49,386.47 587.17,386.1 588.9,385.7 590.72,385.3 592.59,384.91 594.51,384.51 596.43,384.07 598.34,383.57 600.2,383 602.04,382.37 603.89,381.71 605.73,380.99 607.52,380.19 609.25,379.3 610.9,378.3 612.47,377.16 613.98,375.91 615.42,374.56 616.81,373.14 618.14,371.68 619.4,370.2 620.59,368.72 621.71,367.23 622.77,365.69 623.79,364.09 624.76,362.4 625.7,360.6 626.61,358.66 627.48,356.6 628.31,354.45 629.11,352.26 629.87,350.06 630.6,347.9 631.29,345.83 631.94,343.83 632.56,341.82 633.16,339.75 633.73,337.53 634.3,335.1 634.86,332.4 635.41,329.49 635.94,326.43 636.46,323.3 636.94,320.2 637.4,317.2 637.81,314.34 638.18,311.57 638.52,308.82 638.86,306.02 639.21,303.1 639.6,300 640.04,296.54 640.5,292.76 640.99,288.85 641.47,285.04 641.95,281.56 642.4,278.6 642.82,276.21 643.23,274.22 643.63,272.55 644.02,271.11 644.41,269.82 644.8,268.6 645.16,267.49 645.49,266.57 645.81,265.79 646.16,265.13 646.58,264.55 647.1,264 647.72,263.51 648.4,263.1 649.16,262.77 649.97,262.5 650.86,262.28 651.8,262.1 652.83,261.97 653.96,261.89 655.16,261.87 656.38,261.89 657.61,261.93 658.8,262 659.95,262.09 661.09,262.21 662.22,262.36 663.38,262.54 664.56,262.76 665.8,263 667.19,263.31 668.75,263.7 670.34,264.11 671.83,264.51 673.09,264.86 674,265.1" stroke="#1f77b4"/>
<polyline points="497.1,393.4 499.54,393.4 502.87,393.41 506.84,393.41 511.19,393.41 515.66,393.41 520,393.4 524.5,393.4 529.43,393.4 534.49,393.41 539.37,393.39 543.77,393.32 547.4,393.2 550.1,393.03 552.09,392.82 553.6,392.57 554.88,392.28 556.16,391.92 557.7,391.5 559.45,390.97 561.21,390.34 562.98,389.66 564.76,388.96 566.53,388.29 568.3,387.7 570.07,387.19 571.86,386.71 573.64,386.27 575.41,385.86 577.17,385.47 578.9,385.1 580.59,384.78 582.23,384.51 583.86,384.28 585.49,384.03 587.17,383.75 588.9,383.4 590.72,383 592.59,382.59 594.51,382.14 596.43,381.63 598.34,381.06 600.2,380.4 602.04,379.66 603.89,378.86 605.73,377.99 607.52,377.05 609.25,376.02 610.9,374.9 612.47,373.67 613.98,372.34 615.42,370.93 616.81,369.46 618.14,367.94 619.4,366.4 620.59,364.83 621.71,363.2 622.77,361.54 623.79,359.84 624.76,358.12 625.7,356.4 626.61,354.67 627.48,352.92 628.31,351.16 629.11,349.37 629.87,347.55 630.6,345.7 631.29,343.87 631.94,342.07 632.56,340.24 633.16,338.33 633.73,336.27 634.3,334 634.86,331.47 635.41,328.73 635.94,325.83 636.46,322.86 636.94,319.89 637.4,317 637.81,314.22 638.18,311.5 638.52,308.78 638.86,305.99 639.21,303.09 639.6,300 640.04,296.55 640.5,292.75 640.99,288.82 641.47,285.01 641.95,281.52 642.4,278.6 642.82,276.28 643.23,274.38 643.63,272.82 644.02,271.5 644.41,270.32 644.8,269.2 645.16,268.18 645.49,267.36 645.81,266.68 646.16,266.11 646.58,265.59 647.1,265.1 647.72,264.65 648.4,264.27 649.16,263.96 649.97,263.69 650.86,263.44 651.8,263.2 652.83,262.96 653.96,262.73 655.16,262.53 656.38,262.37 657.61,262.25 658.8,262.2 659.95,262.21 661.09,262.29 662.22,262.41 663.38,262.57 664.56,262.77 665.8,263 667.19,263.3 668.75,263.68 670.34,264.1 671.83,264.51 673.09,264.86 674,265.1" stroke="#ff7f0e"/>
</g>
<rect x="489" y="256.5" width="193.4" height="143.8" fill="none" stroke="#222" stroke-width="0.5"/>
<line x1="492.99" y1="400.3" x2="492.99" y2="401.5" stroke="#111" stroke-width="0.45"/>
<line x1="496.28" y1="400.3" x2="496.28" y2="401.5" stroke="#111" stroke-width="0.45"/>
<line x1="499.06" y1="400.3" x2="499.06" y2="401.5" stroke="#111" stroke-width="0.45"/>
<line x1="501.47" y1="400.3" x2="501.47" y2="401.5" stroke="#111" stroke-width="0.45"/>
<line x1="503.6" y1="400.3" x2="503.6" y2="401.5" stroke="#111" stroke-width="0.45"/>
<line x1="505.5" y1="400.3" x2="505.5" y2="402.3" stroke="#000" stroke-width="0.5"/>
<text class="d" transform="translate(505.5,410.5) scale(0.97,1)" font-size="5.5" text-anchor="middle">10<tspan font-size="4.4" dy="-2.2">−5</tspan></text>
<line x1="518.01" y1="400.3" x2="518.01" y2="401.5" stroke="#111" stroke-width="0.45"/>
<line x1="525.32" y1="400.3" x2="525.32" y2="401.5" stroke="#111" stroke-width="0.45"/>
<line x1="530.52" y1="400.3" x2="530.52" y2="401.5" stroke="#111" stroke-width="0.45"/>
<line x1="534.54" y1="400.3" x2="534.54" y2="401.5" stroke="#111" stroke-width="0.45"/>
<line x1="537.83" y1="400.3" x2="537.83" y2="401.5" stroke="#111" stroke-width="0.45"/>
<line x1="540.61" y1="400.3" x2="540.61" y2="401.5" stroke="#111" stroke-width="0.45"/>
<line x1="543.02" y1="400.3" x2="543.02" y2="401.5" stroke="#111" stroke-width="0.45"/>
<line x1="545.15" y1="400.3" x2="545.15" y2="401.5" stroke="#111" stroke-width="0.45"/>
<line x1="547.05" y1="400.3" x2="547.05" y2="402.3" stroke="#000" stroke-width="0.5"/>
<text class="d" transform="translate(547.05,410.5) scale(0.97,1)" font-size="5.5" text-anchor="middle">10<tspan font-size="4.4" dy="-2.2">−4</tspan></text>
<line x1="559.56" y1="400.3" x2="559.56" y2="401.5" stroke="#111" stroke-width="0.45"/>
<line x1="566.87" y1="400.3" x2="566.87" y2="401.5" stroke="#111" stroke-width="0.45"/>
<line x1="572.07" y1="400.3" x2="572.07" y2="401.5" stroke="#111" stroke-width="0.45"/>
<line x1="576.09" y1="400.3" x2="576.09" y2="401.5" stroke="#111" stroke-width="0.45"/>
<line x1="579.38" y1="400.3" x2="579.38" y2="401.5" stroke="#111" stroke-width="0.45"/>
<line x1="582.16" y1="400.3" x2="582.16" y2="401.5" stroke="#111" stroke-width="0.45"/>
<line x1="584.57" y1="400.3" x2="584.57" y2="401.5" stroke="#111" stroke-width="0.45"/>
<line x1="586.7" y1="400.3" x2="586.7" y2="401.5" stroke="#111" stroke-width="0.45"/>
<line x1="588.6" y1="400.3" x2="588.6" y2="402.3" stroke="#000" stroke-width="0.5"/>
<text class="d" transform="translate(588.6,410.5) scale(0.97,1)" font-size="5.5" text-anchor="middle">10<tspan font-size="4.4" dy="-2.2">−3</tspan></text>
<line x1="601.11" y1="400.3" x2="601.11" y2="401.5" stroke="#111" stroke-width="0.45"/>
<line x1="608.42" y1="400.3" x2="608.42" y2="401.5" stroke="#111" stroke-width="0.45"/>
<line x1="613.62" y1="400.3" x2="613.62" y2="401.5" stroke="#111" stroke-width="0.45"/>
<line x1="617.64" y1="400.3" x2="617.64" y2="401.5" stroke="#111" stroke-width="0.45"/>
<line x1="620.93" y1="400.3" x2="620.93" y2="401.5" stroke="#111" stroke-width="0.45"/>
<line x1="623.71" y1="400.3" x2="623.71" y2="401.5" stroke="#111" stroke-width="0.45"/>
<line x1="626.12" y1="400.3" x2="626.12" y2="401.5" stroke="#111" stroke-width="0.45"/>
<line x1="628.25" y1="400.3" x2="628.25" y2="401.5" stroke="#111" stroke-width="0.45"/>
<line x1="630.15" y1="400.3" x2="630.15" y2="402.3" stroke="#000" stroke-width="0.5"/>
<text class="d" transform="translate(630.15,410.5) scale(0.97,1)" font-size="5.5" text-anchor="middle">10<tspan font-size="4.4" dy="-2.2">−2</tspan></text>
<line x1="642.66" y1="400.3" x2="642.66" y2="401.5" stroke="#111" stroke-width="0.45"/>
<line x1="649.97" y1="400.3" x2="649.97" y2="401.5" stroke="#111" stroke-width="0.45"/>
<line x1="655.17" y1="400.3" x2="655.17" y2="401.5" stroke="#111" stroke-width="0.45"/>
<line x1="659.19" y1="400.3" x2="659.19" y2="401.5" stroke="#111" stroke-width="0.45"/>
<line x1="662.48" y1="400.3" x2="662.48" y2="401.5" stroke="#111" stroke-width="0.45"/>
<line x1="665.26" y1="400.3" x2="665.26" y2="401.5" stroke="#111" stroke-width="0.45"/>
<line x1="667.67" y1="400.3" x2="667.67" y2="401.5" stroke="#111" stroke-width="0.45"/>
<line x1="669.8" y1="400.3" x2="669.8" y2="401.5" stroke="#111" stroke-width="0.45"/>
<line x1="671.7" y1="400.3" x2="671.7" y2="402.3" stroke="#000" stroke-width="0.5"/>
<text class="d" transform="translate(671.7,410.5) scale(0.97,1)" font-size="5.5" text-anchor="middle">10<tspan font-size="4.4" dy="-2.2">−1</tspan></text>
<line x1="487" y1="393.45" x2="489" y2="393.45" stroke="#000" stroke-width="0.5"/>
<text class="d" transform="translate(485,395.76) scale(0.97,1)" font-size="5.5" text-anchor="end">0.0</text>
<line x1="487" y1="376.69" x2="489" y2="376.69" stroke="#000" stroke-width="0.5"/>
<text class="d" transform="translate(485,379) scale(0.97,1)" font-size="5.5" text-anchor="end">2.5</text>
<line x1="487" y1="359.94" x2="489" y2="359.94" stroke="#000" stroke-width="0.5"/>
<text class="d" transform="translate(485,362.25) scale(0.97,1)" font-size="5.5" text-anchor="end">5.0</text>
<line x1="487" y1="343.18" x2="489" y2="343.18" stroke="#000" stroke-width="0.5"/>
<text class="d" transform="translate(485,345.49) scale(0.97,1)" font-size="5.5" text-anchor="end">7.5</text>
<line x1="487" y1="326.43" x2="489" y2="326.43" stroke="#000" stroke-width="0.5"/>
<text class="d" transform="translate(485,328.74) scale(0.97,1)" font-size="5.5" text-anchor="end">10.0</text>
<line x1="487" y1="309.67" x2="489" y2="309.67" stroke="#000" stroke-width="0.5"/>
<text class="d" transform="translate(485,311.98) scale(0.97,1)" font-size="5.5" text-anchor="end">12.5</text>
<line x1="487" y1="292.91" x2="489" y2="292.91" stroke="#000" stroke-width="0.5"/>
<text class="d" transform="translate(485,295.22) scale(0.97,1)" font-size="5.5" text-anchor="end">15.0</text>
<line x1="487" y1="276.16" x2="489" y2="276.16" stroke="#000" stroke-width="0.5"/>
<text class="d" transform="translate(485,278.47) scale(0.97,1)" font-size="5.5" text-anchor="end">17.5</text>
<line x1="487" y1="259.4" x2="489" y2="259.4" stroke="#000" stroke-width="0.5"/>
<text class="d" transform="translate(485,261.71) scale(0.97,1)" font-size="5.5" text-anchor="end">20.0</text>
<text class="d" transform="translate(585.7,253.2) scale(0.97,1)" font-size="6.6" text-anchor="middle">x = 0.38738766</text>
<text class="d" transform="translate(585.7,418.6) scale(0.97,1)" font-size="5.5" text-anchor="middle">wallDistance</text>
<text class="d" transform="translate(469.4,329.6) rotate(-90) scale(0.97,1)" font-size="5.5" text-anchor="middle">U_x</text>
<rect x="490.9" y="258.1" width="48.3" height="18.4" rx="1" fill="#fff" fill-opacity="0.8" stroke="#ccc" stroke-width="0.6"/>
<line x1="493.4" y1="263.4" x2="505.1" y2="263.4" stroke="#1f77b4" stroke-width="0.7"/>
<line x1="493.4" y1="271.3" x2="505.1" y2="271.3" stroke="#ff7f0e" stroke-width="0.7"/>
<text class="d" transform="translate(509,266.11) scale(0.97,1)" font-size="5.5">truth</text>
<text class="d" transform="translate(509,274.01) scale(0.97,1)" font-size="5.5">prediction</text>
<text class="s" transform="translate(0.5,200.9)" font-size="16.3" textLength="20.1" lengthAdjust="spacingAndGlyphs">(a)</text>
<text class="s" transform="translate(25.2,200.9)" font-size="16.3" textLength="75.6" lengthAdjust="spacingAndGlyphs">x-Velocity</text>
<text class="s" transform="translate(104.8,200.9)" font-size="16.3" textLength="63.9" lengthAdjust="spacingAndGlyphs">contours</text>
<text class="s" transform="translate(172.5,200.9)" font-size="16.3" textLength="19.7" lengthAdjust="spacingAndGlyphs">for</text>
<text class="s" transform="translate(196.6,200.9)" font-size="16.3" textLength="26.4" lengthAdjust="spacingAndGlyphs">h20</text>
<text class="s" transform="translate(-0.1,220.9)" font-size="16.3" textLength="14.1" lengthAdjust="spacingAndGlyphs">at</text>
<text class="s" transform="translate(20.6,220.9)" font-size="16.3" textLength="20.4" lengthAdjust="spacingAndGlyphs">Re</text>
<text class="s" transform="translate(41.2,224.7)" font-size="13.69" font-style="italic" textLength="10.8" lengthAdjust="spacingAndGlyphs">C</text>
<text class="s" transform="translate(59.6,220.9)" font-size="16.3" textLength="12.6" lengthAdjust="spacingAndGlyphs">=</text>
<text class="s" transform="translate(79,220.9)" font-size="16.3" textLength="29.2" lengthAdjust="spacingAndGlyphs">1.73</text>
<text class="s" transform="translate(108.2,220.9)" font-size="16.3" font-style="italic" textLength="8.4" lengthAdjust="spacingAndGlyphs">e</text>
<text class="s" transform="translate(121.6,220.9)" font-size="16.3" textLength="13.5" lengthAdjust="spacingAndGlyphs">+</text>
<text class="s" transform="translate(138.1,220.9)" font-size="16.3" textLength="8.2" lengthAdjust="spacingAndGlyphs">5</text>
<text class="s" transform="translate(230.8,200.9)" font-size="16.3" textLength="21.9" lengthAdjust="spacingAndGlyphs">(b)</text>
<text class="s" transform="translate(257,200.9)" font-size="16.3" textLength="75.6" lengthAdjust="spacingAndGlyphs">x-Velocity</text>
<text class="s" transform="translate(336.4,200.9)" font-size="16.3" textLength="63.9" lengthAdjust="spacingAndGlyphs">contours</text>
<text class="s" transform="translate(404,200.9)" font-size="16.3" textLength="19.7" lengthAdjust="spacingAndGlyphs">for</text>
<text class="s" transform="translate(428.1,200.9)" font-size="16.3" textLength="26.4" lengthAdjust="spacingAndGlyphs">h26</text>
<text class="s" transform="translate(230.3,220.9)" font-size="16.3" textLength="14.1" lengthAdjust="spacingAndGlyphs">at</text>
<text class="s" transform="translate(251,220.9)" font-size="16.3" textLength="20.4" lengthAdjust="spacingAndGlyphs">Re</text>
<text class="s" transform="translate(271.6,224.7)" font-size="13.69" font-style="italic" textLength="10.8" lengthAdjust="spacingAndGlyphs">C</text>
<text class="s" transform="translate(290,220.9)" font-size="16.3" textLength="12.6" lengthAdjust="spacingAndGlyphs">=</text>
<text class="s" transform="translate(309.4,220.9)" font-size="16.3" textLength="29.2" lengthAdjust="spacingAndGlyphs">1.97</text>
<text class="s" transform="translate(338.6,220.9)" font-size="16.3" font-style="italic" textLength="8.4" lengthAdjust="spacingAndGlyphs">e</text>
<text class="s" transform="translate(352,220.9)" font-size="16.3" textLength="13.5" lengthAdjust="spacingAndGlyphs">+</text>
<text class="s" transform="translate(368.5,220.9)" font-size="16.3" textLength="8.2" lengthAdjust="spacingAndGlyphs">5</text>
<text class="s" transform="translate(462,200.9)" font-size="16.3" textLength="20" lengthAdjust="spacingAndGlyphs">(c)</text>
<text class="s" transform="translate(487,200.9)" font-size="16.3" textLength="75.6" lengthAdjust="spacingAndGlyphs">x-Velocity</text>
<text class="s" transform="translate(566.7,200.9)" font-size="16.3" textLength="63.9" lengthAdjust="spacingAndGlyphs">contours</text>
<text class="s" transform="translate(634.3,200.9)" font-size="16.3" textLength="19.7" lengthAdjust="spacingAndGlyphs">for</text>
<text class="s" transform="translate(658.5,200.9)" font-size="16.3" textLength="26.4" lengthAdjust="spacingAndGlyphs">h42</text>
<text class="s" transform="translate(461.6,220.9)" font-size="16.3" textLength="14.1" lengthAdjust="spacingAndGlyphs">at</text>
<text class="s" transform="translate(482.3,220.9)" font-size="16.3" textLength="20.4" lengthAdjust="spacingAndGlyphs">Re</text>
<text class="s" transform="translate(502.9,224.7)" font-size="13.69" font-style="italic" textLength="10.8" lengthAdjust="spacingAndGlyphs">C</text>
<text class="s" transform="translate(521.3,220.9)" font-size="16.3" textLength="12.6" lengthAdjust="spacingAndGlyphs">=</text>
<text class="s" transform="translate(540.7,220.9)" font-size="16.3" textLength="29.2" lengthAdjust="spacingAndGlyphs">2.21</text>
<text class="s" transform="translate(569.9,220.9)" font-size="16.3" font-style="italic" textLength="8.4" lengthAdjust="spacingAndGlyphs">e</text>
<text class="s" transform="translate(583.3,220.9)" font-size="16.3" textLength="13.5" lengthAdjust="spacingAndGlyphs">+</text>
<text class="s" transform="translate(599.8,220.9)" font-size="16.3" textLength="8.2" lengthAdjust="spacingAndGlyphs">5</text>
<text class="s" transform="translate(0.5,448)" font-size="16.3" textLength="20.8" lengthAdjust="spacingAndGlyphs">(d)</text>
<text class="s" transform="translate(28.1,448)" font-size="16.3" textLength="74.8" lengthAdjust="spacingAndGlyphs">x-Velocity</text>
<text class="s" transform="translate(110.1,448)" font-size="16.3" textLength="20.2" lengthAdjust="spacingAndGlyphs">for</text>
<text class="s" transform="translate(136.6,448)" font-size="16.3" textLength="26.4" lengthAdjust="spacingAndGlyphs">h20</text>
<text class="s" transform="translate(169.8,448)" font-size="16.3" textLength="14.1" lengthAdjust="spacingAndGlyphs">at</text>
<text class="s" transform="translate(191.6,448)" font-size="16.3" textLength="19.8" lengthAdjust="spacingAndGlyphs">Re</text>
<text class="s" transform="translate(211.6,451.8)" font-size="13.69" font-style="italic" textLength="10.4" lengthAdjust="spacingAndGlyphs">C</text>
<text class="s" transform="translate(-0.3,468.2)" font-size="16.3" textLength="12.5" lengthAdjust="spacingAndGlyphs">=</text>
<text class="s" transform="translate(19.1,468.2)" font-size="16.3" textLength="28.7" lengthAdjust="spacingAndGlyphs">1.73</text>
<text class="s" transform="translate(48,468.2)" font-size="16.3" font-style="italic" textLength="8" lengthAdjust="spacingAndGlyphs">e</text>
<text class="s" transform="translate(60.7,468.2)" font-size="16.3" textLength="13.3" lengthAdjust="spacingAndGlyphs">+</text>
<text class="s" transform="translate(77.8,468.2)" font-size="16.3" textLength="8" lengthAdjust="spacingAndGlyphs">5</text>
<text class="s" transform="translate(231.3,448)" font-size="16.3" textLength="19.3" lengthAdjust="spacingAndGlyphs">(e)</text>
<text class="s" transform="translate(257.5,448)" font-size="16.3" textLength="74.8" lengthAdjust="spacingAndGlyphs">x-Velocity</text>
<text class="s" transform="translate(340.5,448)" font-size="16.3" textLength="20.2" lengthAdjust="spacingAndGlyphs">for</text>
<text class="s" transform="translate(368.3,448)" font-size="16.3" textLength="26.4" lengthAdjust="spacingAndGlyphs">h26</text>
<text class="s" transform="translate(400.9,448)" font-size="16.3" textLength="14.1" lengthAdjust="spacingAndGlyphs">at</text>
<text class="s" transform="translate(423.4,448)" font-size="16.3" textLength="19.8" lengthAdjust="spacingAndGlyphs">Re</text>
<text class="s" transform="translate(443.4,451.8)" font-size="13.69" font-style="italic" textLength="10.4" lengthAdjust="spacingAndGlyphs">C</text>
<text class="s" transform="translate(230.6,468.2)" font-size="16.3" textLength="12.5" lengthAdjust="spacingAndGlyphs">=</text>
<text class="s" transform="translate(250,468.2)" font-size="16.3" textLength="28.7" lengthAdjust="spacingAndGlyphs">1.97</text>
<text class="s" transform="translate(278.9,468.2)" font-size="16.3" font-style="italic" textLength="8" lengthAdjust="spacingAndGlyphs">e</text>
<text class="s" transform="translate(291.6,468.2)" font-size="16.3" textLength="13.3" lengthAdjust="spacingAndGlyphs">+</text>
<text class="s" transform="translate(308.7,468.2)" font-size="16.3" textLength="8" lengthAdjust="spacingAndGlyphs">5</text>
<text class="s" transform="translate(462,448)" font-size="16.3" textLength="18.6" lengthAdjust="spacingAndGlyphs">(f)</text>
<text class="s" transform="translate(487.5,448)" font-size="16.3" textLength="74.8" lengthAdjust="spacingAndGlyphs">x-Velocity</text>
<text class="s" transform="translate(570.4,448)" font-size="16.3" textLength="20.2" lengthAdjust="spacingAndGlyphs">for</text>
<text class="s" transform="translate(598.3,448)" font-size="16.3" textLength="26.4" lengthAdjust="spacingAndGlyphs">h42</text>
<text class="s" transform="translate(630.9,448)" font-size="16.3" textLength="14.1" lengthAdjust="spacingAndGlyphs">at</text>
<text class="s" transform="translate(653.4,448)" font-size="16.3" textLength="19.8" lengthAdjust="spacingAndGlyphs">Re</text>
<text class="s" transform="translate(673.4,451.8)" font-size="13.69" font-style="italic" textLength="10.4" lengthAdjust="spacingAndGlyphs">C</text>
<text class="s" transform="translate(461.3,468.2)" font-size="16.3" textLength="12.5" lengthAdjust="spacingAndGlyphs">=</text>
<text class="s" transform="translate(480.7,468.2)" font-size="16.3" textLength="28.7" lengthAdjust="spacingAndGlyphs">2.21</text>
<text class="s" transform="translate(509.6,468.2)" font-size="16.3" font-style="italic" textLength="8" lengthAdjust="spacingAndGlyphs">e</text>
<text class="s" transform="translate(522.3,468.2)" font-size="16.3" textLength="13.3" lengthAdjust="spacingAndGlyphs">+</text>
<text class="s" transform="translate(539.4,468.2)" font-size="16.3" textLength="8" lengthAdjust="spacingAndGlyphs">5</text>
</svg></body></html>
